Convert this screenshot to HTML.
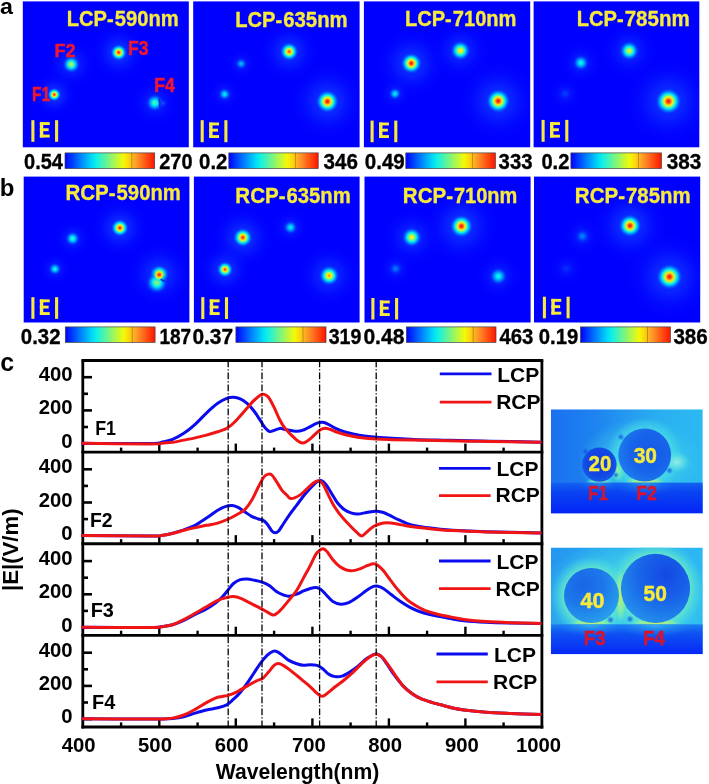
<!DOCTYPE html>
<html><head><meta charset="utf-8"><title>Figure</title>
<style>
html,body{margin:0;padding:0;background:#fff;}
body{width:709px;height:784px;overflow:hidden;font-family:"Liberation Sans",sans-serif;}
svg{display:block;}
text{font-family:"Liberation Sans",sans-serif;opacity:0.999;}
</style></head><body>
<svg width="709" height="784" viewBox="0 0 709 784">
<defs>
<radialGradient id="halo"><stop offset="0" stop-color="#1c64ff" stop-opacity="0.9"/><stop offset="0.3" stop-color="#1448ff" stop-opacity="0.55"/><stop offset="0.6" stop-color="#0c30ff" stop-opacity="0.25"/><stop offset="1" stop-color="#0000ff" stop-opacity="0"/></radialGradient>
<clipPath id="pc0"><rect x="22.8" y="1.4" width="166.0" height="145.9"/></clipPath>
<radialGradient id="g1"><stop offset="0.000" stop-color="#bef83c" stop-opacity="1.00"/><stop offset="0.062" stop-color="#b1f749" stop-opacity="1.00"/><stop offset="0.125" stop-color="#94f666" stop-opacity="1.00"/><stop offset="0.188" stop-color="#6df48c" stop-opacity="1.00"/><stop offset="0.250" stop-color="#40f2b7" stop-opacity="1.00"/><stop offset="0.312" stop-color="#11f1e5" stop-opacity="1.00"/><stop offset="0.375" stop-color="#00d5f7" stop-opacity="1.00"/><stop offset="0.438" stop-color="#00aefb" stop-opacity="1.00"/><stop offset="0.500" stop-color="#008bfd" stop-opacity="1.00"/><stop offset="0.562" stop-color="#006cff" stop-opacity="1.00"/><stop offset="0.625" stop-color="#0051ff" stop-opacity="0.77"/><stop offset="0.688" stop-color="#003cff" stop-opacity="0.57"/><stop offset="0.750" stop-color="#002bff" stop-opacity="0.41"/><stop offset="0.812" stop-color="#001fff" stop-opacity="0.29"/><stop offset="0.875" stop-color="#0015ff" stop-opacity="0.20"/><stop offset="0.938" stop-color="#000eff" stop-opacity="0.14"/><stop offset="1.000" stop-color="#000aff" stop-opacity="0.09"/></radialGradient>
<radialGradient id="g2"><stop offset="0.000" stop-color="#ff2806" stop-opacity="1.00"/><stop offset="0.062" stop-color="#ff3a0c" stop-opacity="1.00"/><stop offset="0.125" stop-color="#ff6419" stop-opacity="1.00"/><stop offset="0.188" stop-color="#ff9c25" stop-opacity="1.00"/><stop offset="0.250" stop-color="#fbe309" stop-opacity="1.00"/><stop offset="0.312" stop-color="#c5f835" stop-opacity="1.00"/><stop offset="0.375" stop-color="#79f580" stop-opacity="1.00"/><stop offset="0.438" stop-color="#32f2c5" stop-opacity="1.00"/><stop offset="0.500" stop-color="#00e3f6" stop-opacity="1.00"/><stop offset="0.562" stop-color="#00b1fa" stop-opacity="1.00"/><stop offset="0.625" stop-color="#0087fe" stop-opacity="1.00"/><stop offset="0.688" stop-color="#0064ff" stop-opacity="0.96"/><stop offset="0.750" stop-color="#0048ff" stop-opacity="0.69"/><stop offset="0.812" stop-color="#0033ff" stop-opacity="0.49"/><stop offset="0.875" stop-color="#0023ff" stop-opacity="0.34"/><stop offset="0.938" stop-color="#0018ff" stop-opacity="0.23"/><stop offset="1.000" stop-color="#0010ff" stop-opacity="0.15"/></radialGradient>
<radialGradient id="g3"><stop offset="0.000" stop-color="#ff2806" stop-opacity="1.00"/><stop offset="0.062" stop-color="#ff3a0c" stop-opacity="1.00"/><stop offset="0.125" stop-color="#ff6419" stop-opacity="1.00"/><stop offset="0.188" stop-color="#ff9c25" stop-opacity="1.00"/><stop offset="0.250" stop-color="#fbe309" stop-opacity="1.00"/><stop offset="0.312" stop-color="#c5f835" stop-opacity="1.00"/><stop offset="0.375" stop-color="#79f580" stop-opacity="1.00"/><stop offset="0.438" stop-color="#32f2c5" stop-opacity="1.00"/><stop offset="0.500" stop-color="#00e3f6" stop-opacity="1.00"/><stop offset="0.562" stop-color="#00b1fa" stop-opacity="1.00"/><stop offset="0.625" stop-color="#0087fe" stop-opacity="1.00"/><stop offset="0.688" stop-color="#0064ff" stop-opacity="0.96"/><stop offset="0.750" stop-color="#0048ff" stop-opacity="0.69"/><stop offset="0.812" stop-color="#0033ff" stop-opacity="0.49"/><stop offset="0.875" stop-color="#0023ff" stop-opacity="0.34"/><stop offset="0.938" stop-color="#0018ff" stop-opacity="0.23"/><stop offset="1.000" stop-color="#0010ff" stop-opacity="0.15"/></radialGradient>
<radialGradient id="g4"><stop offset="0.000" stop-color="#54f3a4" stop-opacity="1.00"/><stop offset="0.062" stop-color="#4af3ae" stop-opacity="1.00"/><stop offset="0.125" stop-color="#34f2c3" stop-opacity="1.00"/><stop offset="0.188" stop-color="#16f1e0" stop-opacity="1.00"/><stop offset="0.250" stop-color="#00e5f6" stop-opacity="1.00"/><stop offset="0.312" stop-color="#00c4f9" stop-opacity="1.00"/><stop offset="0.375" stop-color="#00a3fb" stop-opacity="1.00"/><stop offset="0.438" stop-color="#0086fe" stop-opacity="1.00"/><stop offset="0.500" stop-color="#006aff" stop-opacity="1.00"/><stop offset="0.562" stop-color="#0052ff" stop-opacity="0.78"/><stop offset="0.625" stop-color="#003eff" stop-opacity="0.59"/><stop offset="0.688" stop-color="#002dff" stop-opacity="0.43"/><stop offset="0.750" stop-color="#0021ff" stop-opacity="0.31"/><stop offset="0.812" stop-color="#0017ff" stop-opacity="0.22"/><stop offset="0.875" stop-color="#0010ff" stop-opacity="0.15"/><stop offset="0.938" stop-color="#000bff" stop-opacity="0.10"/><stop offset="1.000" stop-color="#0007ff" stop-opacity="0.07"/></radialGradient>
<clipPath id="pc1"><rect x="193.2" y="1.4" width="166.4" height="145.9"/></clipPath>
<radialGradient id="g5"><stop offset="0.000" stop-color="#ff5514" stop-opacity="1.00"/><stop offset="0.062" stop-color="#ff6619" stop-opacity="1.00"/><stop offset="0.125" stop-color="#ff8d25" stop-opacity="1.00"/><stop offset="0.188" stop-color="#fdc515" stop-opacity="1.00"/><stop offset="0.250" stop-color="#edf90d" stop-opacity="1.00"/><stop offset="0.312" stop-color="#a5f655" stop-opacity="1.00"/><stop offset="0.375" stop-color="#5ef49a" stop-opacity="1.00"/><stop offset="0.438" stop-color="#1cf1da" stop-opacity="1.00"/><stop offset="0.500" stop-color="#00d3f7" stop-opacity="1.00"/><stop offset="0.562" stop-color="#00a5fb" stop-opacity="1.00"/><stop offset="0.625" stop-color="#007eff" stop-opacity="1.00"/><stop offset="0.688" stop-color="#005dff" stop-opacity="0.89"/><stop offset="0.750" stop-color="#0043ff" stop-opacity="0.64"/><stop offset="0.812" stop-color="#002fff" stop-opacity="0.45"/><stop offset="0.875" stop-color="#0021ff" stop-opacity="0.31"/><stop offset="0.938" stop-color="#0016ff" stop-opacity="0.21"/><stop offset="1.000" stop-color="#000fff" stop-opacity="0.14"/></radialGradient>
<radialGradient id="g6"><stop offset="0.000" stop-color="#00b8fa" stop-opacity="1.00"/><stop offset="0.062" stop-color="#00b2fa" stop-opacity="1.00"/><stop offset="0.125" stop-color="#00a7fb" stop-opacity="1.00"/><stop offset="0.188" stop-color="#0097fc" stop-opacity="1.00"/><stop offset="0.250" stop-color="#0085fe" stop-opacity="1.00"/><stop offset="0.312" stop-color="#0072ff" stop-opacity="1.00"/><stop offset="0.375" stop-color="#005eff" stop-opacity="0.90"/><stop offset="0.438" stop-color="#004cff" stop-opacity="0.73"/><stop offset="0.500" stop-color="#003cff" stop-opacity="0.57"/><stop offset="0.562" stop-color="#002eff" stop-opacity="0.44"/><stop offset="0.625" stop-color="#0023ff" stop-opacity="0.33"/><stop offset="0.688" stop-color="#001aff" stop-opacity="0.25"/><stop offset="0.750" stop-color="#0013ff" stop-opacity="0.18"/><stop offset="0.812" stop-color="#000dff" stop-opacity="0.13"/><stop offset="0.875" stop-color="#0009ff" stop-opacity="0.09"/><stop offset="0.938" stop-color="#0006ff" stop-opacity="0.06"/><stop offset="1.000" stop-color="#0004ff" stop-opacity="0.04"/></radialGradient>
<radialGradient id="g7"><stop offset="0.000" stop-color="#00f0f5" stop-opacity="1.00"/><stop offset="0.062" stop-color="#00e9f6" stop-opacity="1.00"/><stop offset="0.125" stop-color="#00daf7" stop-opacity="1.00"/><stop offset="0.188" stop-color="#00c5f9" stop-opacity="1.00"/><stop offset="0.250" stop-color="#00adfb" stop-opacity="1.00"/><stop offset="0.312" stop-color="#0095fd" stop-opacity="1.00"/><stop offset="0.375" stop-color="#007cff" stop-opacity="1.00"/><stop offset="0.438" stop-color="#0065ff" stop-opacity="0.96"/><stop offset="0.500" stop-color="#0050ff" stop-opacity="0.76"/><stop offset="0.562" stop-color="#003dff" stop-opacity="0.58"/><stop offset="0.625" stop-color="#002eff" stop-opacity="0.44"/><stop offset="0.688" stop-color="#0022ff" stop-opacity="0.32"/><stop offset="0.750" stop-color="#0019ff" stop-opacity="0.23"/><stop offset="0.812" stop-color="#0011ff" stop-opacity="0.17"/><stop offset="0.875" stop-color="#000cff" stop-opacity="0.11"/><stop offset="0.938" stop-color="#0008ff" stop-opacity="0.08"/><stop offset="1.000" stop-color="#0005ff" stop-opacity="0.05"/></radialGradient>
<radialGradient id="g8"><stop offset="0.000" stop-color="#ff1400" stop-opacity="1.00"/><stop offset="0.062" stop-color="#ff2706" stop-opacity="1.00"/><stop offset="0.125" stop-color="#ff5213" stop-opacity="1.00"/><stop offset="0.188" stop-color="#ff8c25" stop-opacity="1.00"/><stop offset="0.250" stop-color="#fcd40f" stop-opacity="1.00"/><stop offset="0.312" stop-color="#d3f827" stop-opacity="1.00"/><stop offset="0.375" stop-color="#85f575" stop-opacity="1.00"/><stop offset="0.438" stop-color="#3bf2bc" stop-opacity="1.00"/><stop offset="0.500" stop-color="#00eaf6" stop-opacity="1.00"/><stop offset="0.562" stop-color="#00b6fa" stop-opacity="1.00"/><stop offset="0.625" stop-color="#008bfd" stop-opacity="1.00"/><stop offset="0.688" stop-color="#0067ff" stop-opacity="0.98"/><stop offset="0.750" stop-color="#004bff" stop-opacity="0.71"/><stop offset="0.812" stop-color="#0035ff" stop-opacity="0.50"/><stop offset="0.875" stop-color="#0025ff" stop-opacity="0.35"/><stop offset="0.938" stop-color="#0019ff" stop-opacity="0.24"/><stop offset="1.000" stop-color="#0010ff" stop-opacity="0.16"/></radialGradient>
<clipPath id="pc2"><rect x="363.9" y="1.4" width="166.3" height="145.9"/></clipPath>
<radialGradient id="g9"><stop offset="0.000" stop-color="#ff1400" stop-opacity="1.00"/><stop offset="0.062" stop-color="#ff2706" stop-opacity="1.00"/><stop offset="0.125" stop-color="#ff5213" stop-opacity="1.00"/><stop offset="0.188" stop-color="#ff8c25" stop-opacity="1.00"/><stop offset="0.250" stop-color="#fcd40f" stop-opacity="1.00"/><stop offset="0.312" stop-color="#d3f827" stop-opacity="1.00"/><stop offset="0.375" stop-color="#85f575" stop-opacity="1.00"/><stop offset="0.438" stop-color="#3bf2bc" stop-opacity="1.00"/><stop offset="0.500" stop-color="#00eaf6" stop-opacity="1.00"/><stop offset="0.562" stop-color="#00b6fa" stop-opacity="1.00"/><stop offset="0.625" stop-color="#008bfd" stop-opacity="1.00"/><stop offset="0.688" stop-color="#0067ff" stop-opacity="0.98"/><stop offset="0.750" stop-color="#004bff" stop-opacity="0.71"/><stop offset="0.812" stop-color="#0035ff" stop-opacity="0.50"/><stop offset="0.875" stop-color="#0025ff" stop-opacity="0.35"/><stop offset="0.938" stop-color="#0019ff" stop-opacity="0.24"/><stop offset="1.000" stop-color="#0010ff" stop-opacity="0.16"/></radialGradient>
<radialGradient id="g10"><stop offset="0.000" stop-color="#fbdd0b" stop-opacity="1.00"/><stop offset="0.062" stop-color="#fbec06" stop-opacity="1.00"/><stop offset="0.125" stop-color="#e6f914" stop-opacity="1.00"/><stop offset="0.188" stop-color="#b7f743" stop-opacity="1.00"/><stop offset="0.250" stop-color="#82f578" stop-opacity="1.00"/><stop offset="0.312" stop-color="#49f3af" stop-opacity="1.00"/><stop offset="0.375" stop-color="#11f1e4" stop-opacity="1.00"/><stop offset="0.438" stop-color="#00d0f8" stop-opacity="1.00"/><stop offset="0.500" stop-color="#00a6fb" stop-opacity="1.00"/><stop offset="0.562" stop-color="#0082fe" stop-opacity="1.00"/><stop offset="0.625" stop-color="#0062ff" stop-opacity="0.93"/><stop offset="0.688" stop-color="#0048ff" stop-opacity="0.69"/><stop offset="0.750" stop-color="#0034ff" stop-opacity="0.50"/><stop offset="0.812" stop-color="#0025ff" stop-opacity="0.35"/><stop offset="0.875" stop-color="#001aff" stop-opacity="0.24"/><stop offset="0.938" stop-color="#0011ff" stop-opacity="0.17"/><stop offset="1.000" stop-color="#000cff" stop-opacity="0.11"/></radialGradient>
<radialGradient id="g11"><stop offset="0.000" stop-color="#00f0f5" stop-opacity="1.00"/><stop offset="0.062" stop-color="#00e9f6" stop-opacity="1.00"/><stop offset="0.125" stop-color="#00daf7" stop-opacity="1.00"/><stop offset="0.188" stop-color="#00c5f9" stop-opacity="1.00"/><stop offset="0.250" stop-color="#00adfb" stop-opacity="1.00"/><stop offset="0.312" stop-color="#0095fd" stop-opacity="1.00"/><stop offset="0.375" stop-color="#007cff" stop-opacity="1.00"/><stop offset="0.438" stop-color="#0065ff" stop-opacity="0.96"/><stop offset="0.500" stop-color="#0050ff" stop-opacity="0.76"/><stop offset="0.562" stop-color="#003dff" stop-opacity="0.58"/><stop offset="0.625" stop-color="#002eff" stop-opacity="0.44"/><stop offset="0.688" stop-color="#0022ff" stop-opacity="0.32"/><stop offset="0.750" stop-color="#0019ff" stop-opacity="0.23"/><stop offset="0.812" stop-color="#0011ff" stop-opacity="0.17"/><stop offset="0.875" stop-color="#000cff" stop-opacity="0.11"/><stop offset="0.938" stop-color="#0008ff" stop-opacity="0.08"/><stop offset="1.000" stop-color="#0005ff" stop-opacity="0.05"/></radialGradient>
<radialGradient id="g12"><stop offset="0.000" stop-color="#ff1400" stop-opacity="1.00"/><stop offset="0.062" stop-color="#ff2706" stop-opacity="1.00"/><stop offset="0.125" stop-color="#ff5213" stop-opacity="1.00"/><stop offset="0.188" stop-color="#ff8c25" stop-opacity="1.00"/><stop offset="0.250" stop-color="#fcd40f" stop-opacity="1.00"/><stop offset="0.312" stop-color="#d3f827" stop-opacity="1.00"/><stop offset="0.375" stop-color="#85f575" stop-opacity="1.00"/><stop offset="0.438" stop-color="#3bf2bc" stop-opacity="1.00"/><stop offset="0.500" stop-color="#00eaf6" stop-opacity="1.00"/><stop offset="0.562" stop-color="#00b6fa" stop-opacity="1.00"/><stop offset="0.625" stop-color="#008bfd" stop-opacity="1.00"/><stop offset="0.688" stop-color="#0067ff" stop-opacity="0.98"/><stop offset="0.750" stop-color="#004bff" stop-opacity="0.71"/><stop offset="0.812" stop-color="#0035ff" stop-opacity="0.50"/><stop offset="0.875" stop-color="#0025ff" stop-opacity="0.35"/><stop offset="0.938" stop-color="#0019ff" stop-opacity="0.24"/><stop offset="1.000" stop-color="#0010ff" stop-opacity="0.16"/></radialGradient>
<clipPath id="pc3"><rect x="533.6" y="1.4" width="165.7" height="145.9"/></clipPath>
<radialGradient id="g13"><stop offset="0.000" stop-color="#17f1df" stop-opacity="1.00"/><stop offset="0.062" stop-color="#0ff1e7" stop-opacity="1.00"/><stop offset="0.125" stop-color="#00edf5" stop-opacity="1.00"/><stop offset="0.188" stop-color="#00d6f7" stop-opacity="1.00"/><stop offset="0.250" stop-color="#00bcf9" stop-opacity="1.00"/><stop offset="0.312" stop-color="#00a1fc" stop-opacity="1.00"/><stop offset="0.375" stop-color="#0087fe" stop-opacity="1.00"/><stop offset="0.438" stop-color="#006eff" stop-opacity="1.00"/><stop offset="0.500" stop-color="#0057ff" stop-opacity="0.83"/><stop offset="0.562" stop-color="#0043ff" stop-opacity="0.64"/><stop offset="0.625" stop-color="#0032ff" stop-opacity="0.48"/><stop offset="0.688" stop-color="#0025ff" stop-opacity="0.35"/><stop offset="0.750" stop-color="#001bff" stop-opacity="0.26"/><stop offset="0.812" stop-color="#0013ff" stop-opacity="0.18"/><stop offset="0.875" stop-color="#000dff" stop-opacity="0.13"/><stop offset="0.938" stop-color="#0009ff" stop-opacity="0.08"/><stop offset="1.000" stop-color="#0006ff" stop-opacity="0.06"/></radialGradient>
<radialGradient id="g14"><stop offset="0.000" stop-color="#e4f917" stop-opacity="1.00"/><stop offset="0.062" stop-color="#d6f824" stop-opacity="1.00"/><stop offset="0.125" stop-color="#b6f744" stop-opacity="1.00"/><stop offset="0.188" stop-color="#8cf56e" stop-opacity="1.00"/><stop offset="0.250" stop-color="#5bf49d" stop-opacity="1.00"/><stop offset="0.312" stop-color="#28f2ce" stop-opacity="1.00"/><stop offset="0.375" stop-color="#00e7f6" stop-opacity="1.00"/><stop offset="0.438" stop-color="#00bcf9" stop-opacity="1.00"/><stop offset="0.500" stop-color="#0096fc" stop-opacity="1.00"/><stop offset="0.562" stop-color="#0075ff" stop-opacity="1.00"/><stop offset="0.625" stop-color="#0058ff" stop-opacity="0.84"/><stop offset="0.688" stop-color="#0041ff" stop-opacity="0.62"/><stop offset="0.750" stop-color="#002fff" stop-opacity="0.45"/><stop offset="0.812" stop-color="#0021ff" stop-opacity="0.32"/><stop offset="0.875" stop-color="#0017ff" stop-opacity="0.22"/><stop offset="0.938" stop-color="#0010ff" stop-opacity="0.15"/><stop offset="1.000" stop-color="#000aff" stop-opacity="0.10"/></radialGradient>
<radialGradient id="g15"><stop offset="0.000" stop-color="#004bff" stop-opacity="0.71"/><stop offset="0.062" stop-color="#0049ff" stop-opacity="0.69"/><stop offset="0.125" stop-color="#0044ff" stop-opacity="0.65"/><stop offset="0.188" stop-color="#003dff" stop-opacity="0.58"/><stop offset="0.250" stop-color="#0036ff" stop-opacity="0.51"/><stop offset="0.312" stop-color="#002eff" stop-opacity="0.43"/><stop offset="0.375" stop-color="#0026ff" stop-opacity="0.36"/><stop offset="0.438" stop-color="#001fff" stop-opacity="0.29"/><stop offset="0.500" stop-color="#0018ff" stop-opacity="0.23"/><stop offset="0.562" stop-color="#0013ff" stop-opacity="0.18"/><stop offset="0.625" stop-color="#000eff" stop-opacity="0.13"/><stop offset="0.688" stop-color="#000aff" stop-opacity="0.10"/><stop offset="0.750" stop-color="#0007ff" stop-opacity="0.07"/><stop offset="0.812" stop-color="#0005ff" stop-opacity="0.05"/><stop offset="0.875" stop-color="#0004ff" stop-opacity="0.03"/><stop offset="0.938" stop-color="#0002ff" stop-opacity="0.02"/><stop offset="1.000" stop-color="#0002ff" stop-opacity="0.02"/></radialGradient>
<radialGradient id="g16"><stop offset="0.000" stop-color="#ff1400" stop-opacity="1.00"/><stop offset="0.062" stop-color="#ff2706" stop-opacity="1.00"/><stop offset="0.125" stop-color="#ff5213" stop-opacity="1.00"/><stop offset="0.188" stop-color="#ff8c25" stop-opacity="1.00"/><stop offset="0.250" stop-color="#fcd40f" stop-opacity="1.00"/><stop offset="0.312" stop-color="#d3f827" stop-opacity="1.00"/><stop offset="0.375" stop-color="#85f575" stop-opacity="1.00"/><stop offset="0.438" stop-color="#3bf2bc" stop-opacity="1.00"/><stop offset="0.500" stop-color="#00eaf6" stop-opacity="1.00"/><stop offset="0.562" stop-color="#00b6fa" stop-opacity="1.00"/><stop offset="0.625" stop-color="#008bfd" stop-opacity="1.00"/><stop offset="0.688" stop-color="#0067ff" stop-opacity="0.98"/><stop offset="0.750" stop-color="#004bff" stop-opacity="0.71"/><stop offset="0.812" stop-color="#0035ff" stop-opacity="0.50"/><stop offset="0.875" stop-color="#0025ff" stop-opacity="0.35"/><stop offset="0.938" stop-color="#0019ff" stop-opacity="0.24"/><stop offset="1.000" stop-color="#0010ff" stop-opacity="0.16"/></radialGradient>
<clipPath id="pc4"><rect x="23.7" y="176.6" width="165.7" height="145.9"/></clipPath>
<radialGradient id="g17"><stop offset="0.000" stop-color="#ff2806" stop-opacity="1.00"/><stop offset="0.062" stop-color="#ff3a0c" stop-opacity="1.00"/><stop offset="0.125" stop-color="#ff6419" stop-opacity="1.00"/><stop offset="0.188" stop-color="#ff9c25" stop-opacity="1.00"/><stop offset="0.250" stop-color="#fbe309" stop-opacity="1.00"/><stop offset="0.312" stop-color="#c5f835" stop-opacity="1.00"/><stop offset="0.375" stop-color="#79f580" stop-opacity="1.00"/><stop offset="0.438" stop-color="#32f2c5" stop-opacity="1.00"/><stop offset="0.500" stop-color="#00e3f6" stop-opacity="1.00"/><stop offset="0.562" stop-color="#00b1fa" stop-opacity="1.00"/><stop offset="0.625" stop-color="#0087fe" stop-opacity="1.00"/><stop offset="0.688" stop-color="#0064ff" stop-opacity="0.96"/><stop offset="0.750" stop-color="#0048ff" stop-opacity="0.69"/><stop offset="0.812" stop-color="#0033ff" stop-opacity="0.49"/><stop offset="0.875" stop-color="#0023ff" stop-opacity="0.34"/><stop offset="0.938" stop-color="#0018ff" stop-opacity="0.23"/><stop offset="1.000" stop-color="#0010ff" stop-opacity="0.15"/></radialGradient>
<radialGradient id="g18"><stop offset="0.000" stop-color="#36f2c2" stop-opacity="1.00"/><stop offset="0.062" stop-color="#2df2ca" stop-opacity="1.00"/><stop offset="0.125" stop-color="#18f1de" stop-opacity="1.00"/><stop offset="0.188" stop-color="#00edf5" stop-opacity="1.00"/><stop offset="0.250" stop-color="#00d1f8" stop-opacity="1.00"/><stop offset="0.312" stop-color="#00b3fa" stop-opacity="1.00"/><stop offset="0.375" stop-color="#0095fd" stop-opacity="1.00"/><stop offset="0.438" stop-color="#007aff" stop-opacity="1.00"/><stop offset="0.500" stop-color="#0060ff" stop-opacity="0.92"/><stop offset="0.562" stop-color="#004aff" stop-opacity="0.71"/><stop offset="0.625" stop-color="#0038ff" stop-opacity="0.53"/><stop offset="0.688" stop-color="#0029ff" stop-opacity="0.39"/><stop offset="0.750" stop-color="#001eff" stop-opacity="0.28"/><stop offset="0.812" stop-color="#0015ff" stop-opacity="0.20"/><stop offset="0.875" stop-color="#000fff" stop-opacity="0.14"/><stop offset="0.938" stop-color="#000aff" stop-opacity="0.09"/><stop offset="1.000" stop-color="#0007ff" stop-opacity="0.06"/></radialGradient>
<radialGradient id="g19"><stop offset="0.000" stop-color="#17f1df" stop-opacity="1.00"/><stop offset="0.062" stop-color="#0ff1e7" stop-opacity="1.00"/><stop offset="0.125" stop-color="#00edf5" stop-opacity="1.00"/><stop offset="0.188" stop-color="#00d6f7" stop-opacity="1.00"/><stop offset="0.250" stop-color="#00bcf9" stop-opacity="1.00"/><stop offset="0.312" stop-color="#00a1fc" stop-opacity="1.00"/><stop offset="0.375" stop-color="#0087fe" stop-opacity="1.00"/><stop offset="0.438" stop-color="#006eff" stop-opacity="1.00"/><stop offset="0.500" stop-color="#0057ff" stop-opacity="0.83"/><stop offset="0.562" stop-color="#0043ff" stop-opacity="0.64"/><stop offset="0.625" stop-color="#0032ff" stop-opacity="0.48"/><stop offset="0.688" stop-color="#0025ff" stop-opacity="0.35"/><stop offset="0.750" stop-color="#001bff" stop-opacity="0.26"/><stop offset="0.812" stop-color="#0013ff" stop-opacity="0.18"/><stop offset="0.875" stop-color="#000dff" stop-opacity="0.13"/><stop offset="0.938" stop-color="#0009ff" stop-opacity="0.08"/><stop offset="1.000" stop-color="#0006ff" stop-opacity="0.06"/></radialGradient>
<radialGradient id="g20"><stop offset="0.000" stop-color="#ff2806" stop-opacity="1.00"/><stop offset="0.062" stop-color="#ff3a0c" stop-opacity="1.00"/><stop offset="0.125" stop-color="#ff6419" stop-opacity="1.00"/><stop offset="0.188" stop-color="#ff9c25" stop-opacity="1.00"/><stop offset="0.250" stop-color="#fbe309" stop-opacity="1.00"/><stop offset="0.312" stop-color="#c5f835" stop-opacity="1.00"/><stop offset="0.375" stop-color="#79f580" stop-opacity="1.00"/><stop offset="0.438" stop-color="#32f2c5" stop-opacity="1.00"/><stop offset="0.500" stop-color="#00e3f6" stop-opacity="1.00"/><stop offset="0.562" stop-color="#00b1fa" stop-opacity="1.00"/><stop offset="0.625" stop-color="#0087fe" stop-opacity="1.00"/><stop offset="0.688" stop-color="#0064ff" stop-opacity="0.96"/><stop offset="0.750" stop-color="#0048ff" stop-opacity="0.69"/><stop offset="0.812" stop-color="#0033ff" stop-opacity="0.49"/><stop offset="0.875" stop-color="#0023ff" stop-opacity="0.34"/><stop offset="0.938" stop-color="#0018ff" stop-opacity="0.23"/><stop offset="1.000" stop-color="#0010ff" stop-opacity="0.15"/></radialGradient>
<radialGradient id="mg"><stop offset="0" stop-color="#000"/><stop offset="0.34" stop-color="#000"/><stop offset="0.8" stop-color="#fff"/></radialGradient>
<mask id="m1" maskUnits="userSpaceOnUse" x="130" y="250" width="60" height="60"><rect x="130" y="250" width="60" height="60" fill="#fff"/><circle cx="159.2" cy="274.8" r="9" fill="url(#mg)"/></mask>
<radialGradient id="g21"><stop offset="0.000" stop-color="#91f669" stop-opacity="1.00"/><stop offset="0.062" stop-color="#86f574" stop-opacity="1.00"/><stop offset="0.125" stop-color="#6bf48e" stop-opacity="1.00"/><stop offset="0.188" stop-color="#48f3b0" stop-opacity="1.00"/><stop offset="0.250" stop-color="#1ff1d7" stop-opacity="1.00"/><stop offset="0.312" stop-color="#00e6f6" stop-opacity="1.00"/><stop offset="0.375" stop-color="#00c0f9" stop-opacity="1.00"/><stop offset="0.438" stop-color="#009dfc" stop-opacity="1.00"/><stop offset="0.500" stop-color="#007dff" stop-opacity="1.00"/><stop offset="0.562" stop-color="#0061ff" stop-opacity="0.92"/><stop offset="0.625" stop-color="#0049ff" stop-opacity="0.69"/><stop offset="0.688" stop-color="#0036ff" stop-opacity="0.51"/><stop offset="0.750" stop-color="#0027ff" stop-opacity="0.37"/><stop offset="0.812" stop-color="#001bff" stop-opacity="0.26"/><stop offset="0.875" stop-color="#0013ff" stop-opacity="0.18"/><stop offset="0.938" stop-color="#000dff" stop-opacity="0.12"/><stop offset="1.000" stop-color="#0009ff" stop-opacity="0.08"/></radialGradient>
<clipPath id="pc5"><rect x="193.9" y="176.6" width="165.7" height="145.9"/></clipPath>
<radialGradient id="g22"><stop offset="0.000" stop-color="#ff350a" stop-opacity="1.00"/><stop offset="0.062" stop-color="#ff4710" stop-opacity="1.00"/><stop offset="0.125" stop-color="#ff6f1c" stop-opacity="1.00"/><stop offset="0.188" stop-color="#fea821" stop-opacity="1.00"/><stop offset="0.250" stop-color="#fbed05" stop-opacity="1.00"/><stop offset="0.312" stop-color="#bcf73e" stop-opacity="1.00"/><stop offset="0.375" stop-color="#71f488" stop-opacity="1.00"/><stop offset="0.438" stop-color="#2bf2cb" stop-opacity="1.00"/><stop offset="0.500" stop-color="#00dff6" stop-opacity="1.00"/><stop offset="0.562" stop-color="#00adfb" stop-opacity="1.00"/><stop offset="0.625" stop-color="#0084fe" stop-opacity="1.00"/><stop offset="0.688" stop-color="#0062ff" stop-opacity="0.94"/><stop offset="0.750" stop-color="#0047ff" stop-opacity="0.68"/><stop offset="0.812" stop-color="#0032ff" stop-opacity="0.48"/><stop offset="0.875" stop-color="#0023ff" stop-opacity="0.33"/><stop offset="0.938" stop-color="#0018ff" stop-opacity="0.22"/><stop offset="1.000" stop-color="#0010ff" stop-opacity="0.15"/></radialGradient>
<radialGradient id="g23"><stop offset="0.000" stop-color="#00f0f5" stop-opacity="1.00"/><stop offset="0.062" stop-color="#00e9f6" stop-opacity="1.00"/><stop offset="0.125" stop-color="#00daf7" stop-opacity="1.00"/><stop offset="0.188" stop-color="#00c5f9" stop-opacity="1.00"/><stop offset="0.250" stop-color="#00adfb" stop-opacity="1.00"/><stop offset="0.312" stop-color="#0095fd" stop-opacity="1.00"/><stop offset="0.375" stop-color="#007cff" stop-opacity="1.00"/><stop offset="0.438" stop-color="#0065ff" stop-opacity="0.96"/><stop offset="0.500" stop-color="#0050ff" stop-opacity="0.76"/><stop offset="0.562" stop-color="#003dff" stop-opacity="0.58"/><stop offset="0.625" stop-color="#002eff" stop-opacity="0.44"/><stop offset="0.688" stop-color="#0022ff" stop-opacity="0.32"/><stop offset="0.750" stop-color="#0019ff" stop-opacity="0.23"/><stop offset="0.812" stop-color="#0011ff" stop-opacity="0.17"/><stop offset="0.875" stop-color="#000cff" stop-opacity="0.11"/><stop offset="0.938" stop-color="#0008ff" stop-opacity="0.08"/><stop offset="1.000" stop-color="#0005ff" stop-opacity="0.05"/></radialGradient>
<radialGradient id="g24"><stop offset="0.000" stop-color="#ff4810" stop-opacity="1.00"/><stop offset="0.062" stop-color="#ff5a15" stop-opacity="1.00"/><stop offset="0.125" stop-color="#ff8122" stop-opacity="1.00"/><stop offset="0.188" stop-color="#fdba1a" stop-opacity="1.00"/><stop offset="0.250" stop-color="#f7fa03" stop-opacity="1.00"/><stop offset="0.312" stop-color="#aef74c" stop-opacity="1.00"/><stop offset="0.375" stop-color="#66f493" stop-opacity="1.00"/><stop offset="0.438" stop-color="#22f1d4" stop-opacity="1.00"/><stop offset="0.500" stop-color="#00d8f7" stop-opacity="1.00"/><stop offset="0.562" stop-color="#00a8fb" stop-opacity="1.00"/><stop offset="0.625" stop-color="#0080fe" stop-opacity="1.00"/><stop offset="0.688" stop-color="#005fff" stop-opacity="0.91"/><stop offset="0.750" stop-color="#0045ff" stop-opacity="0.65"/><stop offset="0.812" stop-color="#0031ff" stop-opacity="0.46"/><stop offset="0.875" stop-color="#0022ff" stop-opacity="0.32"/><stop offset="0.938" stop-color="#0017ff" stop-opacity="0.22"/><stop offset="1.000" stop-color="#000fff" stop-opacity="0.14"/></radialGradient>
<radialGradient id="g25"><stop offset="0.000" stop-color="#ff9628" stop-opacity="1.00"/><stop offset="0.062" stop-color="#fea721" stop-opacity="1.00"/><stop offset="0.125" stop-color="#fccd12" stop-opacity="1.00"/><stop offset="0.188" stop-color="#f4fa06" stop-opacity="1.00"/><stop offset="0.250" stop-color="#b7f743" stop-opacity="1.00"/><stop offset="0.312" stop-color="#77f582" stop-opacity="1.00"/><stop offset="0.375" stop-color="#38f2bf" stop-opacity="1.00"/><stop offset="0.438" stop-color="#00edf5" stop-opacity="1.00"/><stop offset="0.500" stop-color="#00bdf9" stop-opacity="1.00"/><stop offset="0.562" stop-color="#0093fd" stop-opacity="1.00"/><stop offset="0.625" stop-color="#0070ff" stop-opacity="1.00"/><stop offset="0.688" stop-color="#0053ff" stop-opacity="0.79"/><stop offset="0.750" stop-color="#003cff" stop-opacity="0.57"/><stop offset="0.812" stop-color="#002aff" stop-opacity="0.40"/><stop offset="0.875" stop-color="#001dff" stop-opacity="0.28"/><stop offset="0.938" stop-color="#0014ff" stop-opacity="0.19"/><stop offset="1.000" stop-color="#000dff" stop-opacity="0.13"/></radialGradient>
<clipPath id="pc6"><rect x="364.5" y="176.6" width="166.1" height="145.9"/></clipPath>
<radialGradient id="g26"><stop offset="0.000" stop-color="#ff1400" stop-opacity="1.00"/><stop offset="0.062" stop-color="#ff2706" stop-opacity="1.00"/><stop offset="0.125" stop-color="#ff5213" stop-opacity="1.00"/><stop offset="0.188" stop-color="#ff8c25" stop-opacity="1.00"/><stop offset="0.250" stop-color="#fcd40f" stop-opacity="1.00"/><stop offset="0.312" stop-color="#d3f827" stop-opacity="1.00"/><stop offset="0.375" stop-color="#85f575" stop-opacity="1.00"/><stop offset="0.438" stop-color="#3bf2bc" stop-opacity="1.00"/><stop offset="0.500" stop-color="#00eaf6" stop-opacity="1.00"/><stop offset="0.562" stop-color="#00b6fa" stop-opacity="1.00"/><stop offset="0.625" stop-color="#008bfd" stop-opacity="1.00"/><stop offset="0.688" stop-color="#0067ff" stop-opacity="0.98"/><stop offset="0.750" stop-color="#004bff" stop-opacity="0.71"/><stop offset="0.812" stop-color="#0035ff" stop-opacity="0.50"/><stop offset="0.875" stop-color="#0025ff" stop-opacity="0.35"/><stop offset="0.938" stop-color="#0019ff" stop-opacity="0.24"/><stop offset="1.000" stop-color="#0010ff" stop-opacity="0.16"/></radialGradient>
<radialGradient id="g27"><stop offset="0.000" stop-color="#fbec06" stop-opacity="1.00"/><stop offset="0.062" stop-color="#fafa00" stop-opacity="1.00"/><stop offset="0.125" stop-color="#d8f922" stop-opacity="1.00"/><stop offset="0.188" stop-color="#abf74f" stop-opacity="1.00"/><stop offset="0.250" stop-color="#77f583" stop-opacity="1.00"/><stop offset="0.312" stop-color="#3ff2b8" stop-opacity="1.00"/><stop offset="0.375" stop-color="#0af0ec" stop-opacity="1.00"/><stop offset="0.438" stop-color="#00cbf8" stop-opacity="1.00"/><stop offset="0.500" stop-color="#00a1fc" stop-opacity="1.00"/><stop offset="0.562" stop-color="#007efe" stop-opacity="1.00"/><stop offset="0.625" stop-color="#005fff" stop-opacity="0.91"/><stop offset="0.688" stop-color="#0046ff" stop-opacity="0.67"/><stop offset="0.750" stop-color="#0033ff" stop-opacity="0.48"/><stop offset="0.812" stop-color="#0024ff" stop-opacity="0.34"/><stop offset="0.875" stop-color="#0019ff" stop-opacity="0.24"/><stop offset="0.938" stop-color="#0011ff" stop-opacity="0.16"/><stop offset="1.000" stop-color="#000bff" stop-opacity="0.11"/></radialGradient>
<radialGradient id="g28"><stop offset="0.000" stop-color="#0078ff" stop-opacity="1.00"/><stop offset="0.062" stop-color="#0074ff" stop-opacity="1.00"/><stop offset="0.125" stop-color="#006dff" stop-opacity="1.00"/><stop offset="0.188" stop-color="#0062ff" stop-opacity="0.93"/><stop offset="0.250" stop-color="#0056ff" stop-opacity="0.82"/><stop offset="0.312" stop-color="#0049ff" stop-opacity="0.69"/><stop offset="0.375" stop-color="#003cff" stop-opacity="0.58"/><stop offset="0.438" stop-color="#0031ff" stop-opacity="0.47"/><stop offset="0.500" stop-color="#0027ff" stop-opacity="0.37"/><stop offset="0.562" stop-color="#001eff" stop-opacity="0.28"/><stop offset="0.625" stop-color="#0016ff" stop-opacity="0.21"/><stop offset="0.688" stop-color="#0011ff" stop-opacity="0.16"/><stop offset="0.750" stop-color="#000cff" stop-opacity="0.11"/><stop offset="0.812" stop-color="#0008ff" stop-opacity="0.08"/><stop offset="0.875" stop-color="#0006ff" stop-opacity="0.06"/><stop offset="0.938" stop-color="#0004ff" stop-opacity="0.04"/><stop offset="1.000" stop-color="#0003ff" stop-opacity="0.03"/></radialGradient>
<radialGradient id="g29"><stop offset="0.000" stop-color="#17f1df" stop-opacity="1.00"/><stop offset="0.062" stop-color="#0ff1e7" stop-opacity="1.00"/><stop offset="0.125" stop-color="#00edf5" stop-opacity="1.00"/><stop offset="0.188" stop-color="#00d6f7" stop-opacity="1.00"/><stop offset="0.250" stop-color="#00bcf9" stop-opacity="1.00"/><stop offset="0.312" stop-color="#00a1fc" stop-opacity="1.00"/><stop offset="0.375" stop-color="#0087fe" stop-opacity="1.00"/><stop offset="0.438" stop-color="#006eff" stop-opacity="1.00"/><stop offset="0.500" stop-color="#0057ff" stop-opacity="0.83"/><stop offset="0.562" stop-color="#0043ff" stop-opacity="0.64"/><stop offset="0.625" stop-color="#0032ff" stop-opacity="0.48"/><stop offset="0.688" stop-color="#0025ff" stop-opacity="0.35"/><stop offset="0.750" stop-color="#001bff" stop-opacity="0.26"/><stop offset="0.812" stop-color="#0013ff" stop-opacity="0.18"/><stop offset="0.875" stop-color="#000dff" stop-opacity="0.13"/><stop offset="0.938" stop-color="#0009ff" stop-opacity="0.08"/><stop offset="1.000" stop-color="#0006ff" stop-opacity="0.06"/></radialGradient>
<clipPath id="pc7"><rect x="534.0" y="176.6" width="166.2" height="145.9"/></clipPath>
<radialGradient id="g30"><stop offset="0.000" stop-color="#ff1400" stop-opacity="1.00"/><stop offset="0.062" stop-color="#ff2706" stop-opacity="1.00"/><stop offset="0.125" stop-color="#ff5213" stop-opacity="1.00"/><stop offset="0.188" stop-color="#ff8c25" stop-opacity="1.00"/><stop offset="0.250" stop-color="#fcd40f" stop-opacity="1.00"/><stop offset="0.312" stop-color="#d3f827" stop-opacity="1.00"/><stop offset="0.375" stop-color="#85f575" stop-opacity="1.00"/><stop offset="0.438" stop-color="#3bf2bc" stop-opacity="1.00"/><stop offset="0.500" stop-color="#00eaf6" stop-opacity="1.00"/><stop offset="0.562" stop-color="#00b6fa" stop-opacity="1.00"/><stop offset="0.625" stop-color="#008bfd" stop-opacity="1.00"/><stop offset="0.688" stop-color="#0067ff" stop-opacity="0.98"/><stop offset="0.750" stop-color="#004bff" stop-opacity="0.71"/><stop offset="0.812" stop-color="#0035ff" stop-opacity="0.50"/><stop offset="0.875" stop-color="#0025ff" stop-opacity="0.35"/><stop offset="0.938" stop-color="#0019ff" stop-opacity="0.24"/><stop offset="1.000" stop-color="#0010ff" stop-opacity="0.16"/></radialGradient>
<radialGradient id="g31"><stop offset="0.000" stop-color="#007ffe" stop-opacity="1.00"/><stop offset="0.062" stop-color="#007cff" stop-opacity="1.00"/><stop offset="0.125" stop-color="#0073ff" stop-opacity="1.00"/><stop offset="0.188" stop-color="#0068ff" stop-opacity="0.99"/><stop offset="0.250" stop-color="#005bff" stop-opacity="0.87"/><stop offset="0.312" stop-color="#004dff" stop-opacity="0.74"/><stop offset="0.375" stop-color="#0040ff" stop-opacity="0.61"/><stop offset="0.438" stop-color="#0034ff" stop-opacity="0.49"/><stop offset="0.500" stop-color="#0029ff" stop-opacity="0.39"/><stop offset="0.562" stop-color="#0020ff" stop-opacity="0.30"/><stop offset="0.625" stop-color="#0018ff" stop-opacity="0.23"/><stop offset="0.688" stop-color="#0012ff" stop-opacity="0.17"/><stop offset="0.750" stop-color="#000dff" stop-opacity="0.12"/><stop offset="0.812" stop-color="#0009ff" stop-opacity="0.09"/><stop offset="0.875" stop-color="#0006ff" stop-opacity="0.06"/><stop offset="0.938" stop-color="#0004ff" stop-opacity="0.04"/><stop offset="1.000" stop-color="#0003ff" stop-opacity="0.03"/></radialGradient>
<radialGradient id="g32"><stop offset="0.000" stop-color="#003cff" stop-opacity="0.57"/><stop offset="0.062" stop-color="#003aff" stop-opacity="0.55"/><stop offset="0.125" stop-color="#0036ff" stop-opacity="0.52"/><stop offset="0.188" stop-color="#0031ff" stop-opacity="0.47"/><stop offset="0.250" stop-color="#002bff" stop-opacity="0.41"/><stop offset="0.312" stop-color="#0024ff" stop-opacity="0.35"/><stop offset="0.375" stop-color="#001eff" stop-opacity="0.29"/><stop offset="0.438" stop-color="#0018ff" stop-opacity="0.23"/><stop offset="0.500" stop-color="#0013ff" stop-opacity="0.18"/><stop offset="0.562" stop-color="#000fff" stop-opacity="0.14"/><stop offset="0.625" stop-color="#000bff" stop-opacity="0.11"/><stop offset="0.688" stop-color="#0008ff" stop-opacity="0.08"/><stop offset="0.750" stop-color="#0006ff" stop-opacity="0.06"/><stop offset="0.812" stop-color="#0004ff" stop-opacity="0.04"/><stop offset="0.875" stop-color="#0003ff" stop-opacity="0.03"/><stop offset="0.938" stop-color="#0002ff" stop-opacity="0.02"/><stop offset="1.000" stop-color="#0001ff" stop-opacity="0.01"/></radialGradient>
<radialGradient id="g33"><stop offset="0.000" stop-color="#ff1400" stop-opacity="1.00"/><stop offset="0.062" stop-color="#ff2706" stop-opacity="1.00"/><stop offset="0.125" stop-color="#ff5213" stop-opacity="1.00"/><stop offset="0.188" stop-color="#ff8c25" stop-opacity="1.00"/><stop offset="0.250" stop-color="#fcd40f" stop-opacity="1.00"/><stop offset="0.312" stop-color="#d3f827" stop-opacity="1.00"/><stop offset="0.375" stop-color="#85f575" stop-opacity="1.00"/><stop offset="0.438" stop-color="#3bf2bc" stop-opacity="1.00"/><stop offset="0.500" stop-color="#00eaf6" stop-opacity="1.00"/><stop offset="0.562" stop-color="#00b6fa" stop-opacity="1.00"/><stop offset="0.625" stop-color="#008bfd" stop-opacity="1.00"/><stop offset="0.688" stop-color="#0067ff" stop-opacity="0.98"/><stop offset="0.750" stop-color="#004bff" stop-opacity="0.71"/><stop offset="0.812" stop-color="#0035ff" stop-opacity="0.50"/><stop offset="0.875" stop-color="#0025ff" stop-opacity="0.35"/><stop offset="0.938" stop-color="#0019ff" stop-opacity="0.24"/><stop offset="1.000" stop-color="#0010ff" stop-opacity="0.16"/></radialGradient>
<linearGradient id="cb" x1="0" x2="1" y1="0" y2="0"><stop offset="0.000" stop-color="#0000ff"/><stop offset="0.050" stop-color="#0026ff"/><stop offset="0.100" stop-color="#004bff"/><stop offset="0.150" stop-color="#0070ff"/><stop offset="0.200" stop-color="#0094fd"/><stop offset="0.250" stop-color="#00b8fa"/><stop offset="0.300" stop-color="#00dbf7"/><stop offset="0.350" stop-color="#0ff1e6"/><stop offset="0.400" stop-color="#36f2c2"/><stop offset="0.450" stop-color="#5cf49d"/><stop offset="0.500" stop-color="#82f578"/><stop offset="0.550" stop-color="#a8f752"/><stop offset="0.600" stop-color="#cdf82d"/><stop offset="0.650" stop-color="#f2fa08"/><stop offset="0.700" stop-color="#fbdd0b"/><stop offset="0.750" stop-color="#fdba1a"/><stop offset="0.800" stop-color="#ff9628"/><stop offset="0.850" stop-color="#ff761e"/><stop offset="0.900" stop-color="#ff5514"/><stop offset="0.950" stop-color="#ff350a"/><stop offset="1.000" stop-color="#ff1400"/></linearGradient>
<clipPath id="clip1"><rect x="550.8" y="409.3" width="152.0" height="104.2"/></clipPath>
<linearGradient id="q34" x1="0" y1="0" x2="1" y2="0"><stop offset="0" stop-color="#1a70f0" stop-opacity="1"/><stop offset="0.3" stop-color="#1e84f0" stop-opacity="1"/><stop offset="0.7" stop-color="#2aaef0" stop-opacity="1"/><stop offset="1" stop-color="#2cbaf2" stop-opacity="1"/></linearGradient>
<linearGradient id="q35" x1="0" y1="0" x2="0" y2="1"><stop offset="0" stop-color="#1262f0" stop-opacity="1"/><stop offset="0.3" stop-color="#0a44f2" stop-opacity="1"/><stop offset="1" stop-color="#0424f6" stop-opacity="1"/></linearGradient>
<radialGradient id="q36" ><stop offset="0" stop-color="#46dce6" stop-opacity="0.85"/><stop offset="0.5" stop-color="#46dce6" stop-opacity="0.5"/><stop offset="1" stop-color="#46dce6" stop-opacity="0"/></radialGradient>
<radialGradient id="q37" ><stop offset="0" stop-color="#46dce6" stop-opacity="0.7"/><stop offset="0.7" stop-color="#46dce6" stop-opacity="0.4"/><stop offset="1" stop-color="#46dce6" stop-opacity="0"/></radialGradient>
<radialGradient id="q38" ><stop offset="0" stop-color="#46dce6" stop-opacity="0.9"/><stop offset="0.68" stop-color="#46dce6" stop-opacity="0.8"/><stop offset="1" stop-color="#46dce6" stop-opacity="0"/></radialGradient>
<radialGradient id="q39" ><stop offset="0" stop-color="#a0f0e0" stop-opacity="0.9"/><stop offset="0.5" stop-color="#70e8e4" stop-opacity="0.6"/><stop offset="1" stop-color="#46dce6" stop-opacity="0"/></radialGradient>
<radialGradient id="q40" ><stop offset="0" stop-color="#8cf0a0" stop-opacity="1"/><stop offset="0.6" stop-color="#60e8c0" stop-opacity="0.7"/><stop offset="1" stop-color="#46dce6" stop-opacity="0"/></radialGradient>
<radialGradient id="q41" ><stop offset="0" stop-color="#8cf0a0" stop-opacity="1"/><stop offset="0.6" stop-color="#60e8c0" stop-opacity="0.8"/><stop offset="1" stop-color="#46dce6" stop-opacity="0"/></radialGradient>
<radialGradient id="q42" ><stop offset="0" stop-color="#c8f064" stop-opacity="1"/><stop offset="0.6" stop-color="#8cf0a0" stop-opacity="0.9"/><stop offset="1" stop-color="#46dce6" stop-opacity="0"/></radialGradient>
<clipPath id="clip1s"><rect x="550.8" y="482.7" width="152.0" height="30.8"/></clipPath>
<radialGradient id="q43" ><stop offset="0" stop-color="#2a90f0" stop-opacity="0.9"/><stop offset="1" stop-color="#1262f0" stop-opacity="0"/></radialGradient>
<radialGradient id="q44" ><stop offset="0" stop-color="#2a98f0" stop-opacity="0.95"/><stop offset="1" stop-color="#1262f0" stop-opacity="0"/></radialGradient>
<radialGradient id="q45" cx="0.5" cy="0.45" r="0.75"><stop offset="0" stop-color="#103ce2" stop-opacity="1"/><stop offset="0.5" stop-color="#1246e4" stop-opacity="1"/><stop offset="1" stop-color="#1a74ec" stop-opacity="1"/></radialGradient>
<radialGradient id="q46" cx="0.6" cy="0.45" r="0.75"><stop offset="0" stop-color="#1658e8" stop-opacity="1"/><stop offset="0.5" stop-color="#1864ea" stop-opacity="1"/><stop offset="1" stop-color="#2088ee" stop-opacity="1"/></radialGradient>
<radialGradient id="q47" ><stop offset="0" stop-color="#0c40e6" stop-opacity="0.75"/><stop offset="0.5" stop-color="#1050ea" stop-opacity="0.45"/><stop offset="1" stop-color="#1468f0" stop-opacity="0"/></radialGradient>
<radialGradient id="q48" ><stop offset="0" stop-color="#0c40e6" stop-opacity="0.75"/><stop offset="0.5" stop-color="#1050ea" stop-opacity="0.45"/><stop offset="1" stop-color="#1468f0" stop-opacity="0"/></radialGradient>
<radialGradient id="q49" ><stop offset="0" stop-color="#0c40e6" stop-opacity="0.75"/><stop offset="0.5" stop-color="#1050ea" stop-opacity="0.45"/><stop offset="1" stop-color="#1468f0" stop-opacity="0"/></radialGradient>
<radialGradient id="q50" ><stop offset="0" stop-color="#0c40e6" stop-opacity="0.75"/><stop offset="0.5" stop-color="#1050ea" stop-opacity="0.45"/><stop offset="1" stop-color="#1468f0" stop-opacity="0"/></radialGradient>
<clipPath id="clip2"><rect x="550.8" y="547.5" width="152.0" height="106.7"/></clipPath>
<linearGradient id="q51" x1="0" y1="0" x2="1" y2="0"><stop offset="0" stop-color="#2496f0" stop-opacity="1"/><stop offset="0.5" stop-color="#2cb0f0" stop-opacity="1"/><stop offset="1" stop-color="#2cb8f2" stop-opacity="1"/></linearGradient>
<linearGradient id="q52" x1="0" y1="0" x2="0" y2="1"><stop offset="0" stop-color="#1a7cf0" stop-opacity="1"/><stop offset="0.3" stop-color="#0e52f2" stop-opacity="1"/><stop offset="1" stop-color="#0628f6" stop-opacity="1"/></linearGradient>
<radialGradient id="q53" ><stop offset="0" stop-color="#46dce6" stop-opacity="0.9"/><stop offset="0.6" stop-color="#46dce6" stop-opacity="0.55"/><stop offset="1" stop-color="#46dce6" stop-opacity="0"/></radialGradient>
<radialGradient id="q54" ><stop offset="0" stop-color="#8cf0a0" stop-opacity="0.95"/><stop offset="0.7" stop-color="#64e6c8" stop-opacity="0.85"/><stop offset="1" stop-color="#46dce6" stop-opacity="0"/></radialGradient>
<radialGradient id="q55" ><stop offset="0" stop-color="#8cf0a0" stop-opacity="0.95"/><stop offset="0.73" stop-color="#64e6c8" stop-opacity="0.85"/><stop offset="1" stop-color="#46dce6" stop-opacity="0"/></radialGradient>
<radialGradient id="q56" ><stop offset="0" stop-color="#c8f064" stop-opacity="1"/><stop offset="0.6" stop-color="#8cf0a0" stop-opacity="0.8"/><stop offset="1" stop-color="#8cf0a0" stop-opacity="0"/></radialGradient>
<radialGradient id="q57" ><stop offset="0" stop-color="#c8f064" stop-opacity="1"/><stop offset="0.6" stop-color="#8cf0a0" stop-opacity="0.85"/><stop offset="1" stop-color="#46dce6" stop-opacity="0"/></radialGradient>
<radialGradient id="q58" ><stop offset="0" stop-color="#c8f064" stop-opacity="1"/><stop offset="0.6" stop-color="#8cf0a0" stop-opacity="0.85"/><stop offset="1" stop-color="#46dce6" stop-opacity="0"/></radialGradient>
<clipPath id="clip2s"><rect x="550.8" y="624.4" width="152.0" height="29.8"/></clipPath>
<radialGradient id="q59" ><stop offset="0" stop-color="#38b4f0" stop-opacity="0.95"/><stop offset="1" stop-color="#1a7cf0" stop-opacity="0"/></radialGradient>
<radialGradient id="q60" ><stop offset="0" stop-color="#38b4f0" stop-opacity="0.95"/><stop offset="1" stop-color="#1a7cf0" stop-opacity="0"/></radialGradient>
<radialGradient id="q61" cx="0.35" cy="0.3" r="0.75"><stop offset="0" stop-color="#1a64e8" stop-opacity="1"/><stop offset="0.5" stop-color="#1c78ea" stop-opacity="1"/><stop offset="1" stop-color="#28a0ec" stop-opacity="1"/></radialGradient>
<radialGradient id="q62" cx="0.65" cy="0.3" r="0.75"><stop offset="0" stop-color="#1448e4" stop-opacity="1"/><stop offset="0.5" stop-color="#1864e8" stop-opacity="1"/><stop offset="1" stop-color="#2490ec" stop-opacity="1"/></radialGradient>
<radialGradient id="q63" ><stop offset="0" stop-color="#0c40e6" stop-opacity="0.75"/><stop offset="0.5" stop-color="#1050ea" stop-opacity="0.45"/><stop offset="1" stop-color="#1468f0" stop-opacity="0"/></radialGradient>
<radialGradient id="q64" ><stop offset="0" stop-color="#0c40e6" stop-opacity="0.75"/><stop offset="0.5" stop-color="#1050ea" stop-opacity="0.45"/><stop offset="1" stop-color="#1468f0" stop-opacity="0"/></radialGradient>
</defs>
<rect width="709" height="784" fill="#fff"/>
<rect x="22.8" y="1.4" width="166.0" height="145.9" fill="#0000ff"/>
<rect x="23.7" y="176.6" width="165.7" height="145.9" fill="#0000ff"/>
<rect x="193.2" y="1.4" width="166.4" height="145.9" fill="#0000ff"/>
<rect x="193.9" y="176.6" width="165.7" height="145.9" fill="#0000ff"/>
<rect x="363.9" y="1.4" width="166.3" height="145.9" fill="#0000ff"/>
<rect x="364.5" y="176.6" width="166.1" height="145.9" fill="#0000ff"/>
<rect x="533.6" y="1.4" width="165.7" height="145.9" fill="#0000ff"/>
<rect x="534.0" y="176.6" width="166.2" height="145.9" fill="#0000ff"/>
<g clip-path="url(#pc0)">
<circle cx="71.3" cy="64.4" r="25.6" fill="url(#halo)" opacity="0.73"/>
<circle cx="118.7" cy="52.5" r="28.4" fill="url(#halo)" opacity="0.98"/>
<circle cx="54.3" cy="94.6" r="23.0" fill="url(#halo)" opacity="0.98"/>
<circle cx="154.8" cy="102.8" r="24.6" fill="url(#halo)" opacity="0.64"/>
<circle cx="71.3" cy="64.4" r="10.8" fill="url(#g1)"/>
<circle cx="118.7" cy="52.5" r="9.6" fill="url(#g2)"/>
<circle cx="54.3" cy="94.6" r="7.8" fill="url(#g3)"/>
<circle cx="154.8" cy="102.8" r="11.4" fill="url(#g4)"/>
</g>
<g clip-path="url(#pc1)">
<circle cx="289.2" cy="51.6" r="30.8" fill="url(#halo)" opacity="0.94"/>
<circle cx="241.1" cy="63.7" r="15.8" fill="url(#halo)" opacity="0.51"/>
<circle cx="224.6" cy="94.2" r="16.8" fill="url(#halo)" opacity="0.56"/>
<circle cx="327.4" cy="101.5" r="39.6" fill="url(#halo)" opacity="1.00"/>
<circle cx="289.2" cy="51.6" r="10.8" fill="url(#g5)"/>
<circle cx="241.1" cy="63.7" r="8.4" fill="url(#g6)"/>
<circle cx="224.6" cy="94.2" r="8.4" fill="url(#g7)"/>
<circle cx="327.4" cy="101.5" r="13.2" fill="url(#g8)"/>
</g>
<g clip-path="url(#pc2)">
<circle cx="411.3" cy="63.3" r="36.0" fill="url(#halo)" opacity="1.00"/>
<circle cx="460.4" cy="50.6" r="30.6" fill="url(#halo)" opacity="0.80"/>
<circle cx="395.0" cy="93.7" r="16.8" fill="url(#halo)" opacity="0.56"/>
<circle cx="498.2" cy="101.0" r="41.4" fill="url(#halo)" opacity="1.00"/>
<circle cx="411.3" cy="63.3" r="12.0" fill="url(#g9)"/>
<circle cx="460.4" cy="50.6" r="12.0" fill="url(#g10)"/>
<circle cx="395.0" cy="93.7" r="8.4" fill="url(#g11)"/>
<circle cx="498.2" cy="101.0" r="13.8" fill="url(#g12)"/>
</g>
<g clip-path="url(#pc3)">
<circle cx="580.9" cy="62.8" r="22.0" fill="url(#halo)" opacity="0.58"/>
<circle cx="629.2" cy="50.8" r="29.3" fill="url(#halo)" opacity="0.76"/>
<circle cx="565.2" cy="93.7" r="17.8" fill="url(#halo)" opacity="0.41"/>
<circle cx="668.5" cy="101.3" r="45.0" fill="url(#halo)" opacity="1.00"/>
<circle cx="580.9" cy="62.8" r="10.8" fill="url(#g13)"/>
<circle cx="629.2" cy="50.8" r="12.0" fill="url(#g14)"/>
<circle cx="565.2" cy="93.7" r="10.8" fill="url(#g15)"/>
<circle cx="668.5" cy="101.3" r="15.0" fill="url(#g16)"/>
</g>
<g clip-path="url(#pc4)">
<circle cx="119.9" cy="227.9" r="30.1" fill="url(#halo)" opacity="0.98"/>
<circle cx="72.6" cy="238.6" r="20.2" fill="url(#halo)" opacity="0.61"/>
<circle cx="54.9" cy="269.0" r="17.1" fill="url(#halo)" opacity="0.58"/>
<circle cx="159.2" cy="274.8" r="33.7" fill="url(#halo)" opacity="0.98"/>
<circle cx="119.9" cy="227.9" r="10.2" fill="url(#g17)"/>
<circle cx="72.6" cy="238.6" r="9.6" fill="url(#g18)"/>
<circle cx="54.9" cy="269.0" r="8.4" fill="url(#g19)"/>
<circle cx="159.2" cy="274.8" r="11.4" fill="url(#g20)"/>
<g mask="url(#m1)">
<circle cx="156.9" cy="282.6" r="13.8" fill="url(#g21)"/>
</g>
</g>
<g clip-path="url(#pc5)">
<circle cx="242.8" cy="237.5" r="32.6" fill="url(#halo)" opacity="0.97"/>
<circle cx="290.5" cy="227.4" r="19.2" fill="url(#halo)" opacity="0.56"/>
<circle cx="225.0" cy="269.5" r="27.0" fill="url(#halo)" opacity="0.95"/>
<circle cx="329.1" cy="275.6" r="32.4" fill="url(#halo)" opacity="0.87"/>
<circle cx="242.8" cy="237.5" r="11.2" fill="url(#g22)"/>
<circle cx="290.5" cy="227.4" r="9.6" fill="url(#g23)"/>
<circle cx="225.0" cy="269.5" r="9.4" fill="url(#g24)"/>
<circle cx="329.1" cy="275.6" r="12.0" fill="url(#g25)"/>
</g>
<g clip-path="url(#pc6)">
<circle cx="461.4" cy="226.2" r="39.6" fill="url(#halo)" opacity="1.00"/>
<circle cx="411.8" cy="237.3" r="30.2" fill="url(#halo)" opacity="0.79"/>
<circle cx="395.6" cy="268.7" r="18.8" fill="url(#halo)" opacity="0.45"/>
<circle cx="498.4" cy="276.3" r="24.5" fill="url(#halo)" opacity="0.58"/>
<circle cx="461.4" cy="226.2" r="13.2" fill="url(#g26)"/>
<circle cx="411.8" cy="237.3" r="12.0" fill="url(#g27)"/>
<circle cx="395.6" cy="268.7" r="10.8" fill="url(#g28)"/>
<circle cx="498.4" cy="276.3" r="12.0" fill="url(#g29)"/>
</g>
<g clip-path="url(#pc7)">
<circle cx="630.0" cy="225.7" r="39.6" fill="url(#halo)" opacity="1.00"/>
<circle cx="582.4" cy="236.3" r="21.1" fill="url(#halo)" opacity="0.46"/>
<circle cx="566.2" cy="268.7" r="17.5" fill="url(#halo)" opacity="0.40"/>
<circle cx="669.5" cy="276.8" r="45.0" fill="url(#halo)" opacity="1.00"/>
<circle cx="630.0" cy="225.7" r="13.2" fill="url(#g30)"/>
<circle cx="582.4" cy="236.3" r="12.0" fill="url(#g31)"/>
<circle cx="566.2" cy="268.7" r="10.8" fill="url(#g32)"/>
<circle cx="669.5" cy="276.8" r="15.0" fill="url(#g33)"/>
</g>
<text x="66.8" y="26.1" font-size="22.32" fill="#f7ea3b" font-family="Liberation Sans, sans-serif" font-weight="bold" textLength="46.9" lengthAdjust="spacingAndGlyphs" stroke="#f7ea3b" stroke-width="0.35" stroke-linejoin="round">LCP-</text>
<text x="114.7" y="26.1" font-size="22.32" fill="#f7ea3b" font-family="Liberation Sans, sans-serif" font-weight="bold" textLength="64.0" lengthAdjust="spacingAndGlyphs" stroke="#f7ea3b" stroke-width="0.35" stroke-linejoin="round">590nm</text>
<text x="235.3" y="26.5" font-size="22.32" fill="#f7ea3b" font-family="Liberation Sans, sans-serif" font-weight="bold" textLength="46.9" lengthAdjust="spacingAndGlyphs" stroke="#f7ea3b" stroke-width="0.35" stroke-linejoin="round">LCP-</text>
<text x="283.2" y="26.5" font-size="22.32" fill="#f7ea3b" font-family="Liberation Sans, sans-serif" font-weight="bold" textLength="64.5" lengthAdjust="spacingAndGlyphs" stroke="#f7ea3b" stroke-width="0.35" stroke-linejoin="round">635nm</text>
<text x="404.9" y="25.6" font-size="22.32" fill="#f7ea3b" font-family="Liberation Sans, sans-serif" font-weight="bold" textLength="46.9" lengthAdjust="spacingAndGlyphs" stroke="#f7ea3b" stroke-width="0.35" stroke-linejoin="round">LCP-</text>
<text x="452.8" y="25.6" font-size="22.32" fill="#f7ea3b" font-family="Liberation Sans, sans-serif" font-weight="bold" textLength="63.7" lengthAdjust="spacingAndGlyphs" stroke="#f7ea3b" stroke-width="0.35" stroke-linejoin="round">710nm</text>
<text x="576.8" y="25.9" font-size="22.32" fill="#f7ea3b" font-family="Liberation Sans, sans-serif" font-weight="bold" textLength="46.9" lengthAdjust="spacingAndGlyphs" stroke="#f7ea3b" stroke-width="0.35" stroke-linejoin="round">LCP-</text>
<text x="624.7" y="25.9" font-size="22.32" fill="#f7ea3b" font-family="Liberation Sans, sans-serif" font-weight="bold" textLength="65.0" lengthAdjust="spacingAndGlyphs" stroke="#f7ea3b" stroke-width="0.35" stroke-linejoin="round">785nm</text>
<text x="65.4" y="200.0" font-size="22.32" fill="#f7ea3b" font-family="Liberation Sans, sans-serif" font-weight="bold" textLength="50.2" lengthAdjust="spacingAndGlyphs" stroke="#f7ea3b" stroke-width="0.35" stroke-linejoin="round">RCP-</text>
<text x="116.6" y="200.0" font-size="22.32" fill="#f7ea3b" font-family="Liberation Sans, sans-serif" font-weight="bold" textLength="64.2" lengthAdjust="spacingAndGlyphs" stroke="#f7ea3b" stroke-width="0.35" stroke-linejoin="round">590nm</text>
<text x="235.3" y="202.5" font-size="22.32" fill="#f7ea3b" font-family="Liberation Sans, sans-serif" font-weight="bold" textLength="50.2" lengthAdjust="spacingAndGlyphs" stroke="#f7ea3b" stroke-width="0.35" stroke-linejoin="round">RCP-</text>
<text x="286.5" y="202.5" font-size="22.32" fill="#f7ea3b" font-family="Liberation Sans, sans-serif" font-weight="bold" textLength="64.2" lengthAdjust="spacingAndGlyphs" stroke="#f7ea3b" stroke-width="0.35" stroke-linejoin="round">635nm</text>
<text x="402.8" y="203.0" font-size="22.32" fill="#f7ea3b" font-family="Liberation Sans, sans-serif" font-weight="bold" textLength="50.2" lengthAdjust="spacingAndGlyphs" stroke="#f7ea3b" stroke-width="0.35" stroke-linejoin="round">RCP-</text>
<text x="454.0" y="203.0" font-size="22.32" fill="#f7ea3b" font-family="Liberation Sans, sans-serif" font-weight="bold" textLength="63.3" lengthAdjust="spacingAndGlyphs" stroke="#f7ea3b" stroke-width="0.35" stroke-linejoin="round">710nm</text>
<text x="574.8" y="203.0" font-size="22.32" fill="#f7ea3b" font-family="Liberation Sans, sans-serif" font-weight="bold" textLength="50.2" lengthAdjust="spacingAndGlyphs" stroke="#f7ea3b" stroke-width="0.35" stroke-linejoin="round">RCP-</text>
<text x="626.0" y="203.0" font-size="22.32" fill="#f7ea3b" font-family="Liberation Sans, sans-serif" font-weight="bold" textLength="64.5" lengthAdjust="spacingAndGlyphs" stroke="#f7ea3b" stroke-width="0.35" stroke-linejoin="round">785nm</text>
<rect x="31.35" y="120.2" width="3.1" height="21.6" fill="#f7ea3b"/>
<rect x="55.05" y="120.2" width="3.1" height="21.6" fill="#f7ea3b"/>
<rect x="39.85" y="122.1" width="3.4" height="15.4" fill="#f7ea3b"/>
<rect x="39.85" y="122.10" width="9.9" height="2.9" fill="#f7ea3b"/>
<rect x="39.85" y="128.25" width="8.8" height="2.9" fill="#f7ea3b"/>
<rect x="39.85" y="134.60" width="9.9" height="2.9" fill="#f7ea3b"/>
<rect x="200.65" y="120.2" width="3.1" height="22.0" fill="#f7ea3b"/>
<rect x="224.35" y="120.2" width="3.1" height="22.0" fill="#f7ea3b"/>
<rect x="209.15" y="122.5" width="3.4" height="15.5" fill="#f7ea3b"/>
<rect x="209.15" y="122.50" width="9.9" height="2.9" fill="#f7ea3b"/>
<rect x="209.15" y="128.70" width="8.8" height="2.9" fill="#f7ea3b"/>
<rect x="209.15" y="135.10" width="9.9" height="2.9" fill="#f7ea3b"/>
<rect x="370.55" y="120.6" width="3.1" height="21.6" fill="#f7ea3b"/>
<rect x="394.25" y="120.6" width="3.1" height="21.6" fill="#f7ea3b"/>
<rect x="379.05" y="122.5" width="3.4" height="15.5" fill="#f7ea3b"/>
<rect x="379.05" y="122.50" width="9.9" height="2.9" fill="#f7ea3b"/>
<rect x="379.05" y="128.70" width="8.8" height="2.9" fill="#f7ea3b"/>
<rect x="379.05" y="135.10" width="9.9" height="2.9" fill="#f7ea3b"/>
<rect x="541.55" y="119.9" width="3.1" height="21.9" fill="#f7ea3b"/>
<rect x="565.25" y="119.9" width="3.1" height="21.9" fill="#f7ea3b"/>
<rect x="550.05" y="122.1" width="3.4" height="15.5" fill="#f7ea3b"/>
<rect x="550.05" y="122.10" width="9.9" height="2.9" fill="#f7ea3b"/>
<rect x="550.05" y="128.30" width="8.8" height="2.9" fill="#f7ea3b"/>
<rect x="550.05" y="134.70" width="9.9" height="2.9" fill="#f7ea3b"/>
<rect x="31.35" y="297.2" width="3.1" height="21.6" fill="#f7ea3b"/>
<rect x="55.05" y="297.2" width="3.1" height="21.6" fill="#f7ea3b"/>
<rect x="39.85" y="299.4" width="3.4" height="15.6" fill="#f7ea3b"/>
<rect x="39.85" y="299.40" width="9.9" height="2.9" fill="#f7ea3b"/>
<rect x="39.85" y="305.65" width="8.8" height="2.9" fill="#f7ea3b"/>
<rect x="39.85" y="312.10" width="9.9" height="2.9" fill="#f7ea3b"/>
<rect x="201.25" y="297.2" width="3.1" height="21.8" fill="#f7ea3b"/>
<rect x="224.95" y="297.2" width="3.1" height="21.8" fill="#f7ea3b"/>
<rect x="209.75" y="299.4" width="3.4" height="15.6" fill="#f7ea3b"/>
<rect x="209.75" y="299.40" width="9.9" height="2.9" fill="#f7ea3b"/>
<rect x="209.75" y="305.65" width="8.8" height="2.9" fill="#f7ea3b"/>
<rect x="209.75" y="312.10" width="9.9" height="2.9" fill="#f7ea3b"/>
<rect x="371.35" y="298.0" width="3.1" height="21.5" fill="#f7ea3b"/>
<rect x="395.05" y="298.0" width="3.1" height="21.5" fill="#f7ea3b"/>
<rect x="379.85" y="300.5" width="3.4" height="15.5" fill="#f7ea3b"/>
<rect x="379.85" y="300.50" width="9.9" height="2.9" fill="#f7ea3b"/>
<rect x="379.85" y="306.70" width="8.8" height="2.9" fill="#f7ea3b"/>
<rect x="379.85" y="313.10" width="9.9" height="2.9" fill="#f7ea3b"/>
<rect x="542.85" y="296.7" width="3.1" height="21.6" fill="#f7ea3b"/>
<rect x="566.55" y="296.7" width="3.1" height="21.6" fill="#f7ea3b"/>
<rect x="551.35" y="298.9" width="3.4" height="15.7" fill="#f7ea3b"/>
<rect x="551.35" y="298.90" width="9.9" height="2.9" fill="#f7ea3b"/>
<rect x="551.35" y="305.20" width="8.8" height="2.9" fill="#f7ea3b"/>
<rect x="551.35" y="311.70" width="9.9" height="2.9" fill="#f7ea3b"/>
<text x="54.5" y="57.0" font-size="19.13" fill="#ee1830" font-family="Liberation Sans, sans-serif" font-weight="bold" textLength="21.1" lengthAdjust="spacingAndGlyphs" stroke="#ee1830" stroke-width="0.50" stroke-linejoin="round">F2</text>
<text x="127.9" y="54.7" font-size="19.42" fill="#ee1830" font-family="Liberation Sans, sans-serif" font-weight="bold" textLength="20.6" lengthAdjust="spacingAndGlyphs" stroke="#ee1830" stroke-width="0.50" stroke-linejoin="round">F3</text>
<text x="32.0" y="101.0" font-size="19.42" fill="#ee1830" font-family="Liberation Sans, sans-serif" font-weight="bold" textLength="18.1" lengthAdjust="spacingAndGlyphs" stroke="#ee1830" stroke-width="0.50" stroke-linejoin="round">F1</text>
<text x="154.3" y="92.0" font-size="19.42" fill="#ee1830" font-family="Liberation Sans, sans-serif" font-weight="bold" textLength="20.6" lengthAdjust="spacingAndGlyphs" stroke="#ee1830" stroke-width="0.50" stroke-linejoin="round">F4</text>
<path d="M161.2,279.6 L164.2,281.2" fill="none" stroke="#0010c8" stroke-width="1.6" stroke-linecap="round" opacity="0.8"/>
<circle cx="163.2" cy="103.2" r="5.5" fill="url(#halo)" opacity="0.9"/>
<path d="M159.0,99.3 Q160.6,102.8 159.6,106.6" fill="none" stroke="#0010c8" stroke-width="1.3" stroke-linecap="round" opacity="0.85"/>
<rect x="65.0" y="152.9" width="89.7" height="15.7" fill="url(#cb)" stroke="#444" stroke-width="0.7"/>
<line x1="131.8" y1="152.9" x2="131.8" y2="168.6" stroke="#222" stroke-width="0.6" opacity="0.5"/>
<text x="24.1" y="169.3" font-size="21.74" fill="#000" font-family="Liberation Sans, sans-serif" font-weight="bold" textLength="38.9" lengthAdjust="spacingAndGlyphs" stroke="#000" stroke-width="0.35" stroke-linejoin="round">0.54</text>
<text x="159.2" y="169.3" font-size="21.74" fill="#000" font-family="Liberation Sans, sans-serif" font-weight="bold" textLength="33.3" lengthAdjust="spacingAndGlyphs" stroke="#000" stroke-width="0.35" stroke-linejoin="round">270</text>
<rect x="228.8" y="152.9" width="89.4" height="15.7" fill="url(#cb)" stroke="#444" stroke-width="0.7"/>
<line x1="295.4" y1="152.9" x2="295.4" y2="168.6" stroke="#222" stroke-width="0.6" opacity="0.5"/>
<text x="199.1" y="169.3" font-size="21.74" fill="#000" font-family="Liberation Sans, sans-serif" font-weight="bold" textLength="28.3" lengthAdjust="spacingAndGlyphs" stroke="#000" stroke-width="0.35" stroke-linejoin="round">0.2</text>
<text x="323.5" y="169.3" font-size="21.74" fill="#000" font-family="Liberation Sans, sans-serif" font-weight="bold" textLength="34.4" lengthAdjust="spacingAndGlyphs" stroke="#000" stroke-width="0.35" stroke-linejoin="round">346</text>
<rect x="405.8" y="152.9" width="89.6" height="15.7" fill="url(#cb)" stroke="#444" stroke-width="0.7"/>
<line x1="472.6" y1="152.9" x2="472.6" y2="168.6" stroke="#222" stroke-width="0.6" opacity="0.5"/>
<text x="364.8" y="169.3" font-size="21.74" fill="#000" font-family="Liberation Sans, sans-serif" font-weight="bold" textLength="40.0" lengthAdjust="spacingAndGlyphs" stroke="#000" stroke-width="0.35" stroke-linejoin="round">0.49</text>
<text x="498.6" y="169.3" font-size="21.74" fill="#000" font-family="Liberation Sans, sans-serif" font-weight="bold" textLength="33.9" lengthAdjust="spacingAndGlyphs" stroke="#000" stroke-width="0.35" stroke-linejoin="round">333</text>
<rect x="570.9" y="152.9" width="90.6" height="15.7" fill="url(#cb)" stroke="#444" stroke-width="0.7"/>
<line x1="638.4" y1="152.9" x2="638.4" y2="168.6" stroke="#222" stroke-width="0.6" opacity="0.5"/>
<text x="541.4" y="169.3" font-size="21.74" fill="#000" font-family="Liberation Sans, sans-serif" font-weight="bold" textLength="28.0" lengthAdjust="spacingAndGlyphs" stroke="#000" stroke-width="0.35" stroke-linejoin="round">0.2</text>
<text x="666.8" y="169.3" font-size="21.74" fill="#000" font-family="Liberation Sans, sans-serif" font-weight="bold" textLength="34.6" lengthAdjust="spacingAndGlyphs" stroke="#000" stroke-width="0.35" stroke-linejoin="round">383</text>
<rect x="65.3" y="326.9" width="89.8" height="15.5" fill="url(#cb)" stroke="#444" stroke-width="0.7"/>
<line x1="132.2" y1="326.9" x2="132.2" y2="342.4" stroke="#222" stroke-width="0.6" opacity="0.5"/>
<text x="20.8" y="343.9" font-size="21.74" fill="#000" font-family="Liberation Sans, sans-serif" font-weight="bold" textLength="39.7" lengthAdjust="spacingAndGlyphs" stroke="#000" stroke-width="0.35" stroke-linejoin="round">0.32</text>
<text x="159.4" y="343.9" font-size="21.74" fill="#000" font-family="Liberation Sans, sans-serif" font-weight="bold" textLength="31.8" lengthAdjust="spacingAndGlyphs" stroke="#000" stroke-width="0.35" stroke-linejoin="round">187</text>
<rect x="235.9" y="326.9" width="90.1" height="15.5" fill="url(#cb)" stroke="#444" stroke-width="0.7"/>
<line x1="303.0" y1="326.9" x2="303.0" y2="342.4" stroke="#222" stroke-width="0.6" opacity="0.5"/>
<text x="192.4" y="343.9" font-size="21.74" fill="#000" font-family="Liberation Sans, sans-serif" font-weight="bold" textLength="40.7" lengthAdjust="spacingAndGlyphs" stroke="#000" stroke-width="0.35" stroke-linejoin="round">0.37</text>
<text x="328.7" y="343.9" font-size="21.74" fill="#000" font-family="Liberation Sans, sans-serif" font-weight="bold" textLength="32.7" lengthAdjust="spacingAndGlyphs" stroke="#000" stroke-width="0.35" stroke-linejoin="round">319</text>
<rect x="406.4" y="326.9" width="89.6" height="15.5" fill="url(#cb)" stroke="#444" stroke-width="0.7"/>
<line x1="473.2" y1="326.9" x2="473.2" y2="342.4" stroke="#222" stroke-width="0.6" opacity="0.5"/>
<text x="363.4" y="343.9" font-size="21.74" fill="#000" font-family="Liberation Sans, sans-serif" font-weight="bold" textLength="41.0" lengthAdjust="spacingAndGlyphs" stroke="#000" stroke-width="0.35" stroke-linejoin="round">0.48</text>
<text x="499.5" y="343.9" font-size="21.74" fill="#000" font-family="Liberation Sans, sans-serif" font-weight="bold" textLength="33.9" lengthAdjust="spacingAndGlyphs" stroke="#000" stroke-width="0.35" stroke-linejoin="round">463</text>
<rect x="580.5" y="326.9" width="89.9" height="15.5" fill="url(#cb)" stroke="#444" stroke-width="0.7"/>
<line x1="647.5" y1="326.9" x2="647.5" y2="342.4" stroke="#222" stroke-width="0.6" opacity="0.5"/>
<text x="538.8" y="343.9" font-size="21.74" fill="#000" font-family="Liberation Sans, sans-serif" font-weight="bold" textLength="39.5" lengthAdjust="spacingAndGlyphs" stroke="#000" stroke-width="0.35" stroke-linejoin="round">0.19</text>
<text x="673.4" y="343.9" font-size="21.74" fill="#000" font-family="Liberation Sans, sans-serif" font-weight="bold" textLength="34.4" lengthAdjust="spacingAndGlyphs" stroke="#000" stroke-width="0.35" stroke-linejoin="round">386</text>
<text transform="translate(0.1,13.7) scale(1.08,1)" font-size="21.5" fill="#000" font-family="Liberation Sans, sans-serif" font-weight="bold">a</text>
<text x="-0.2" y="195.6" font-size="24" fill="#000" font-family="Liberation Sans, sans-serif" font-weight="bold">b</text>
<text x="0.2" y="371.4" font-size="25" fill="#000" font-family="Liberation Sans, sans-serif" font-weight="bold">c</text>
<line x1="81.4" y1="452.20" x2="543.3" y2="452.20" stroke="#000" stroke-width="2.8"/>
<line x1="121.1" y1="452.20" x2="121.1" y2="447.60" stroke="#000" stroke-width="2.4"/>
<line x1="159.3" y1="452.20" x2="159.3" y2="443.60" stroke="#000" stroke-width="2.4"/>
<line x1="197.6" y1="452.20" x2="197.6" y2="447.60" stroke="#000" stroke-width="2.4"/>
<line x1="235.8" y1="452.20" x2="235.8" y2="443.60" stroke="#000" stroke-width="2.4"/>
<line x1="274.1" y1="452.20" x2="274.1" y2="447.60" stroke="#000" stroke-width="2.4"/>
<line x1="312.4" y1="452.20" x2="312.4" y2="443.60" stroke="#000" stroke-width="2.4"/>
<line x1="350.6" y1="452.20" x2="350.6" y2="447.60" stroke="#000" stroke-width="2.4"/>
<line x1="388.9" y1="452.20" x2="388.9" y2="443.60" stroke="#000" stroke-width="2.4"/>
<line x1="427.1" y1="452.20" x2="427.1" y2="447.60" stroke="#000" stroke-width="2.4"/>
<line x1="465.4" y1="452.20" x2="465.4" y2="443.60" stroke="#000" stroke-width="2.4"/>
<line x1="503.6" y1="452.20" x2="503.6" y2="447.60" stroke="#000" stroke-width="2.4"/>
<line x1="82.8" y1="443.60" x2="92.0" y2="443.60" stroke="#000" stroke-width="2.6"/>
<text x="72.5" y="447.6" font-size="20.3" fill="#000" text-anchor="end" font-family="Liberation Sans, sans-serif" font-weight="bold">0</text>
<line x1="82.8" y1="427.00" x2="88.0" y2="427.00" stroke="#000" stroke-width="2.6"/>
<line x1="82.8" y1="410.40" x2="92.0" y2="410.40" stroke="#000" stroke-width="2.6"/>
<text x="72.5" y="414.4" font-size="20.3" fill="#000" text-anchor="end" font-family="Liberation Sans, sans-serif" font-weight="bold">200</text>
<line x1="82.8" y1="393.80" x2="88.0" y2="393.80" stroke="#000" stroke-width="2.6"/>
<line x1="82.8" y1="377.20" x2="92.0" y2="377.20" stroke="#000" stroke-width="2.6"/>
<text x="72.5" y="381.2" font-size="20.3" fill="#000" text-anchor="end" font-family="Liberation Sans, sans-serif" font-weight="bold">400</text>
<text x="95.2" y="435.4" font-size="20.43" fill="#000" font-family="Liberation Sans, sans-serif" font-weight="bold" textLength="20.8" lengthAdjust="spacingAndGlyphs">F1</text>
<line x1="81.4" y1="543.75" x2="543.3" y2="543.75" stroke="#000" stroke-width="2.8"/>
<line x1="121.1" y1="543.75" x2="121.1" y2="539.15" stroke="#000" stroke-width="2.4"/>
<line x1="159.3" y1="543.75" x2="159.3" y2="535.15" stroke="#000" stroke-width="2.4"/>
<line x1="197.6" y1="543.75" x2="197.6" y2="539.15" stroke="#000" stroke-width="2.4"/>
<line x1="235.8" y1="543.75" x2="235.8" y2="535.15" stroke="#000" stroke-width="2.4"/>
<line x1="274.1" y1="543.75" x2="274.1" y2="539.15" stroke="#000" stroke-width="2.4"/>
<line x1="312.4" y1="543.75" x2="312.4" y2="535.15" stroke="#000" stroke-width="2.4"/>
<line x1="350.6" y1="543.75" x2="350.6" y2="539.15" stroke="#000" stroke-width="2.4"/>
<line x1="388.9" y1="543.75" x2="388.9" y2="535.15" stroke="#000" stroke-width="2.4"/>
<line x1="427.1" y1="543.75" x2="427.1" y2="539.15" stroke="#000" stroke-width="2.4"/>
<line x1="465.4" y1="543.75" x2="465.4" y2="535.15" stroke="#000" stroke-width="2.4"/>
<line x1="503.6" y1="543.75" x2="503.6" y2="539.15" stroke="#000" stroke-width="2.4"/>
<line x1="82.8" y1="535.70" x2="92.0" y2="535.70" stroke="#000" stroke-width="2.6"/>
<text x="72.5" y="539.7" font-size="20.3" fill="#000" text-anchor="end" font-family="Liberation Sans, sans-serif" font-weight="bold">0</text>
<line x1="82.8" y1="519.10" x2="88.0" y2="519.10" stroke="#000" stroke-width="2.6"/>
<line x1="82.8" y1="502.50" x2="92.0" y2="502.50" stroke="#000" stroke-width="2.6"/>
<text x="72.5" y="506.5" font-size="20.3" fill="#000" text-anchor="end" font-family="Liberation Sans, sans-serif" font-weight="bold">200</text>
<line x1="82.8" y1="485.90" x2="88.0" y2="485.90" stroke="#000" stroke-width="2.6"/>
<line x1="82.8" y1="469.30" x2="92.0" y2="469.30" stroke="#000" stroke-width="2.6"/>
<text x="72.5" y="473.3" font-size="20.3" fill="#000" text-anchor="end" font-family="Liberation Sans, sans-serif" font-weight="bold">400</text>
<text x="89.9" y="526.5" font-size="20.43" fill="#000" font-family="Liberation Sans, sans-serif" font-weight="bold" textLength="22.6" lengthAdjust="spacingAndGlyphs">F2</text>
<line x1="81.4" y1="635.30" x2="543.3" y2="635.30" stroke="#000" stroke-width="2.8"/>
<line x1="121.1" y1="635.30" x2="121.1" y2="630.70" stroke="#000" stroke-width="2.4"/>
<line x1="159.3" y1="635.30" x2="159.3" y2="626.70" stroke="#000" stroke-width="2.4"/>
<line x1="197.6" y1="635.30" x2="197.6" y2="630.70" stroke="#000" stroke-width="2.4"/>
<line x1="235.8" y1="635.30" x2="235.8" y2="626.70" stroke="#000" stroke-width="2.4"/>
<line x1="274.1" y1="635.30" x2="274.1" y2="630.70" stroke="#000" stroke-width="2.4"/>
<line x1="312.4" y1="635.30" x2="312.4" y2="626.70" stroke="#000" stroke-width="2.4"/>
<line x1="350.6" y1="635.30" x2="350.6" y2="630.70" stroke="#000" stroke-width="2.4"/>
<line x1="388.9" y1="635.30" x2="388.9" y2="626.70" stroke="#000" stroke-width="2.4"/>
<line x1="427.1" y1="635.30" x2="427.1" y2="630.70" stroke="#000" stroke-width="2.4"/>
<line x1="465.4" y1="635.30" x2="465.4" y2="626.70" stroke="#000" stroke-width="2.4"/>
<line x1="503.6" y1="635.30" x2="503.6" y2="630.70" stroke="#000" stroke-width="2.4"/>
<line x1="82.8" y1="627.50" x2="92.0" y2="627.50" stroke="#000" stroke-width="2.6"/>
<text x="72.5" y="631.5" font-size="20.3" fill="#000" text-anchor="end" font-family="Liberation Sans, sans-serif" font-weight="bold">0</text>
<line x1="82.8" y1="610.90" x2="88.0" y2="610.90" stroke="#000" stroke-width="2.6"/>
<line x1="82.8" y1="594.30" x2="92.0" y2="594.30" stroke="#000" stroke-width="2.6"/>
<text x="72.5" y="598.3" font-size="20.3" fill="#000" text-anchor="end" font-family="Liberation Sans, sans-serif" font-weight="bold">200</text>
<line x1="82.8" y1="577.70" x2="88.0" y2="577.70" stroke="#000" stroke-width="2.6"/>
<line x1="82.8" y1="561.10" x2="92.0" y2="561.10" stroke="#000" stroke-width="2.6"/>
<text x="72.5" y="565.1" font-size="20.3" fill="#000" text-anchor="end" font-family="Liberation Sans, sans-serif" font-weight="bold">400</text>
<text x="90.7" y="616.8" font-size="20.43" fill="#000" font-family="Liberation Sans, sans-serif" font-weight="bold" textLength="23.2" lengthAdjust="spacingAndGlyphs">F3</text>
<line x1="81.4" y1="727.00" x2="543.3" y2="727.00" stroke="#000" stroke-width="2.8"/>
<line x1="121.1" y1="727.00" x2="121.1" y2="722.40" stroke="#000" stroke-width="2.4"/>
<line x1="159.3" y1="727.00" x2="159.3" y2="718.40" stroke="#000" stroke-width="2.4"/>
<line x1="197.6" y1="727.00" x2="197.6" y2="722.40" stroke="#000" stroke-width="2.4"/>
<line x1="235.8" y1="727.00" x2="235.8" y2="718.40" stroke="#000" stroke-width="2.4"/>
<line x1="274.1" y1="727.00" x2="274.1" y2="722.40" stroke="#000" stroke-width="2.4"/>
<line x1="312.4" y1="727.00" x2="312.4" y2="718.40" stroke="#000" stroke-width="2.4"/>
<line x1="350.6" y1="727.00" x2="350.6" y2="722.40" stroke="#000" stroke-width="2.4"/>
<line x1="388.9" y1="727.00" x2="388.9" y2="718.40" stroke="#000" stroke-width="2.4"/>
<line x1="427.1" y1="727.00" x2="427.1" y2="722.40" stroke="#000" stroke-width="2.4"/>
<line x1="465.4" y1="727.00" x2="465.4" y2="718.40" stroke="#000" stroke-width="2.4"/>
<line x1="503.6" y1="727.00" x2="503.6" y2="722.40" stroke="#000" stroke-width="2.4"/>
<line x1="82.8" y1="719.10" x2="92.0" y2="719.10" stroke="#000" stroke-width="2.6"/>
<text x="72.5" y="723.1" font-size="20.3" fill="#000" text-anchor="end" font-family="Liberation Sans, sans-serif" font-weight="bold">0</text>
<line x1="82.8" y1="702.50" x2="88.0" y2="702.50" stroke="#000" stroke-width="2.6"/>
<line x1="82.8" y1="685.90" x2="92.0" y2="685.90" stroke="#000" stroke-width="2.6"/>
<text x="72.5" y="689.9" font-size="20.3" fill="#000" text-anchor="end" font-family="Liberation Sans, sans-serif" font-weight="bold">200</text>
<line x1="82.8" y1="669.30" x2="88.0" y2="669.30" stroke="#000" stroke-width="2.6"/>
<line x1="82.8" y1="652.70" x2="92.0" y2="652.70" stroke="#000" stroke-width="2.6"/>
<text x="72.5" y="656.7" font-size="20.3" fill="#000" text-anchor="end" font-family="Liberation Sans, sans-serif" font-weight="bold">400</text>
<text x="92.1" y="709.0" font-size="20.43" fill="#000" font-family="Liberation Sans, sans-serif" font-weight="bold" textLength="23.2" lengthAdjust="spacingAndGlyphs">F4</text>
<line x1="81.4" y1="360.50" x2="543.3" y2="360.50" stroke="#000" stroke-width="2.8"/>
<line x1="82.8" y1="360.50" x2="82.8" y2="728.40" stroke="#000" stroke-width="2.8"/>
<line x1="541.9" y1="360.50" x2="541.9" y2="728.40" stroke="#000" stroke-width="2.8"/>
<path d="M81.60,443.30C93.00,443.33 136.34,443.77 150.00,443.50C163.66,443.23 159.78,442.37 163.54,441.69C167.30,441.02 169.18,440.83 172.57,439.44C175.95,438.04 180.09,435.86 183.85,433.34C187.61,430.82 191.37,427.70 195.13,424.32C198.90,420.93 202.66,416.53 206.42,413.03C210.18,409.53 214.32,405.77 217.70,403.33C221.09,400.88 224.09,399.38 226.73,398.36C229.36,397.35 231.24,397.16 233.50,397.24C235.75,397.31 238.01,397.80 240.27,398.82C242.52,399.83 244.78,401.34 247.04,403.33C249.29,405.32 251.55,407.84 253.81,410.78C256.06,413.71 258.70,418.11 260.58,420.93C262.46,423.75 263.59,425.93 265.09,427.70C266.60,429.47 268.10,431.09 269.61,431.54C271.11,431.99 272.43,430.94 274.12,430.41C275.81,429.88 277.88,428.53 279.76,428.38C281.64,428.23 282.57,429.02 285.40,429.51C288.24,430.00 293.75,431.24 296.77,431.31C299.79,431.39 301.28,430.75 303.54,429.96C305.80,429.17 308.05,427.70 310.31,426.57C312.57,425.44 315.01,423.90 317.08,423.19C319.15,422.47 320.84,422.10 322.72,422.28C324.60,422.47 326.30,423.34 328.36,424.32C330.43,425.29 332.50,426.91 335.13,428.15C337.77,429.39 341.15,430.79 344.16,431.76C347.17,432.74 349.80,433.31 353.19,434.02C356.57,434.73 360.71,435.52 364.47,436.05C368.23,436.58 371.24,436.80 375.75,437.18C380.27,437.56 385.16,437.93 391.55,438.31C397.95,438.68 406.60,439.13 414.12,439.44C421.64,439.74 430.71,439.96 436.69,440.11C442.67,440.26 442.78,440.19 450.00,440.34C457.22,440.49 470.00,440.79 480.00,441.00C490.00,441.21 499.75,441.40 510.00,441.60C520.25,441.80 536.25,442.10 541.50,442.20" fill="none" stroke="#0b0bf0" stroke-width="3" stroke-linejoin="round" stroke-linecap="butt"/>
<path d="M81.60,443.30C93.00,443.41 136.34,443.99 150.00,443.95C163.66,443.91 159.78,443.31 163.54,443.05C167.30,442.78 169.18,442.86 172.57,442.37C175.95,441.88 180.09,440.87 183.85,440.11C187.61,439.36 191.37,438.68 195.13,437.86C198.90,437.03 202.66,436.16 206.42,435.15C210.18,434.13 214.13,433.00 217.70,431.76C221.27,430.52 224.85,429.51 227.86,427.70C230.87,425.90 232.93,423.75 235.75,420.93C238.58,418.11 241.77,414.16 244.78,410.78C247.79,407.39 251.18,403.25 253.81,400.62C256.44,397.99 258.89,396.03 260.58,394.98C262.27,393.93 262.65,393.93 263.96,394.30C265.28,394.68 266.78,395.05 268.48,397.24C270.17,399.42 272.24,403.63 274.12,407.39C276.00,411.15 277.88,416.23 279.76,419.80C281.64,423.38 282.57,425.44 285.40,428.83C288.24,432.21 293.94,437.74 296.77,440.11C299.61,442.48 300.72,442.86 302.41,443.05C304.10,443.23 305.23,442.29 306.93,441.24C308.62,440.19 310.50,438.53 312.57,436.73C314.64,434.92 317.27,431.84 319.34,430.41C321.41,428.98 323.10,428.30 324.98,428.15C326.86,428.00 328.55,428.83 330.62,429.51C332.69,430.18 334.76,431.31 337.39,432.21C340.02,433.12 343.03,434.09 346.42,434.92C349.80,435.75 352.81,436.50 357.70,437.18C362.59,437.86 370.11,438.57 375.75,438.98C381.40,439.40 385.16,439.47 391.55,439.66C397.95,439.85 404.38,439.92 414.12,440.11C423.86,440.30 439.02,440.59 450.00,440.79C460.98,440.99 470.00,441.13 480.00,441.30C490.00,441.47 499.75,441.63 510.00,441.80C520.25,441.97 536.25,442.22 541.50,442.30" fill="none" stroke="#f01414" stroke-width="3" stroke-linejoin="round" stroke-linecap="butt"/>
<path d="M81.60,535.40C93.00,535.49 136.72,535.93 150.00,535.95C163.28,535.97 157.52,535.95 161.28,535.50C165.04,535.05 168.81,534.18 172.57,533.24C176.33,532.30 180.09,531.17 183.85,529.86C187.61,528.54 191.37,527.30 195.13,525.34C198.90,523.39 202.66,520.64 206.42,518.12C210.18,515.60 214.32,512.22 217.70,510.22C221.09,508.23 224.28,506.95 226.73,506.16C229.17,505.37 230.49,505.30 232.37,505.48C234.25,505.67 235.94,506.24 238.01,507.29C240.08,508.34 242.52,510.30 244.78,511.80C247.04,513.31 249.29,515.11 251.55,516.32C253.81,517.52 256.44,518.38 258.32,519.02C260.20,519.66 261.33,519.29 262.83,520.15C264.34,521.02 265.84,522.41 267.35,524.21C268.85,526.02 270.55,529.56 271.86,530.98C273.18,532.41 274.12,532.79 275.25,532.79C276.38,532.79 277.32,532.41 278.63,530.98C279.95,529.56 281.26,527.04 283.15,524.21C285.03,521.39 287.64,517.26 289.92,514.06C292.19,510.86 294.50,508.04 296.77,505.03C299.04,502.02 301.28,498.83 303.54,496.01C305.80,493.18 308.05,490.48 310.31,488.11C312.57,485.74 315.20,483.03 317.08,481.79C318.96,480.55 320.09,480.17 321.59,480.66C323.10,481.15 324.41,482.54 326.11,484.72C327.80,486.90 329.87,490.74 331.75,493.75C333.63,496.76 335.32,500.14 337.39,502.78C339.46,505.41 341.90,507.85 344.16,509.55C346.42,511.24 348.67,512.18 350.93,512.93C353.19,513.68 355.07,514.13 357.70,514.06C360.33,513.98 363.72,512.97 366.73,512.48C369.74,511.99 373.12,511.16 375.75,511.13C378.39,511.09 380.27,511.58 382.52,512.25C384.78,512.93 386.66,513.95 389.29,515.19C391.93,516.43 395.31,518.31 398.32,519.70C401.33,521.09 404.34,522.48 407.35,523.54C410.36,524.59 413.37,525.34 416.38,526.02C419.38,526.70 422.02,527.15 425.40,527.60C428.79,528.05 432.15,528.29 436.69,528.73C441.22,529.16 444.38,529.70 452.60,530.20C460.82,530.70 471.18,531.25 486.00,531.70C500.82,532.15 532.25,532.70 541.50,532.90" fill="none" stroke="#0b0bf0" stroke-width="3" stroke-linejoin="round" stroke-linecap="butt"/>
<path d="M81.60,535.40C93.00,535.49 136.72,535.93 150.00,535.95C163.28,535.97 157.52,535.91 161.28,535.50C165.04,535.08 168.81,534.33 172.57,533.47C176.33,532.60 180.09,531.29 183.85,530.31C187.61,529.33 191.37,528.43 195.13,527.60C198.90,526.77 202.66,526.09 206.42,525.34C210.18,524.59 214.13,524.10 217.70,523.09C221.27,522.07 224.85,520.57 227.86,519.25C230.87,517.93 232.93,516.80 235.75,515.19C238.58,513.57 242.15,511.99 244.78,509.55C247.41,507.10 249.29,504.28 251.55,500.52C253.81,496.76 256.25,490.93 258.32,486.98C260.39,483.03 262.27,478.97 263.96,476.82C265.66,474.68 267.16,474.42 268.48,474.12C269.79,473.81 270.55,473.81 271.86,475.02C273.18,476.22 274.68,478.78 276.38,481.34C278.07,483.89 280.14,487.92 282.02,490.36C283.90,492.81 286.33,494.69 287.66,496.01C288.99,497.32 288.86,497.96 290.00,498.26C291.14,498.56 292.82,498.38 294.51,497.81C296.21,497.25 298.27,496.19 300.16,494.88C302.04,493.56 303.73,491.79 305.80,489.91C307.87,488.03 310.50,485.14 312.57,483.59C314.64,482.05 316.52,480.66 318.21,480.66C319.90,480.66 321.22,481.60 322.72,483.59C324.23,485.59 325.54,489.24 327.24,492.62C328.93,496.01 330.81,500.33 332.88,503.90C334.95,507.48 337.01,510.67 339.65,514.06C342.28,517.44 345.85,521.21 348.67,524.21C351.50,527.22 354.39,530.16 356.57,532.11C358.75,534.07 360.07,535.95 361.76,535.95C363.46,535.95 364.77,533.69 366.73,532.11C368.68,530.53 371.24,527.86 373.50,526.47C375.75,525.08 378.01,524.36 380.27,523.76C382.52,523.16 384.41,522.86 387.04,522.86C389.67,522.86 392.68,523.24 396.06,523.76C399.45,524.29 403.59,525.38 407.35,526.02C411.11,526.66 414.87,527.15 418.63,527.60C422.39,528.05 424.25,528.23 429.92,528.73C435.58,529.23 443.25,530.07 452.60,530.60C461.95,531.13 471.18,531.50 486.00,531.90C500.82,532.30 532.25,532.82 541.50,533.00" fill="none" stroke="#f01414" stroke-width="3" stroke-linejoin="round" stroke-linecap="butt"/>
<path d="M81.60,627.20C93.00,627.25 136.72,627.56 150.00,627.50C163.28,627.43 157.52,627.27 161.28,626.82C165.04,626.37 168.81,625.88 172.57,624.79C176.33,623.70 180.09,622.01 183.85,620.28C187.61,618.55 191.37,616.29 195.13,614.41C198.90,612.53 203.03,610.87 206.42,608.99C209.80,607.11 212.81,605.12 215.44,603.13C218.08,601.13 220.15,599.18 222.21,597.03C224.28,594.89 225.98,592.52 227.86,590.26C229.74,588.01 231.43,585.26 233.50,583.49C235.57,581.72 238.01,580.41 240.27,579.66C242.52,578.90 244.78,578.90 247.04,578.98C249.29,579.05 251.18,579.54 253.81,580.11C256.44,580.67 260.20,581.42 262.83,582.36C265.47,583.30 267.35,584.24 269.61,585.75C271.86,587.25 274.12,589.89 276.38,591.39C278.63,592.90 281.08,593.99 283.15,594.78C285.21,595.57 286.52,596.24 288.79,596.13C291.06,596.02 294.31,594.96 296.77,594.10C299.23,593.23 301.28,591.88 303.54,590.94C305.80,590.00 308.24,589.02 310.31,588.46C312.38,587.89 314.26,587.44 315.95,587.55C317.64,587.67 318.77,587.93 320.47,589.13C322.16,590.34 324.04,592.71 326.11,594.78C328.18,596.84 330.43,599.97 332.88,601.55C335.32,603.13 338.14,604.07 340.78,604.25C343.41,604.44 345.85,603.88 348.67,602.67C351.50,601.47 354.69,599.10 357.70,597.03C360.71,594.96 364.09,592.03 366.73,590.26C369.36,588.49 371.62,587.10 373.50,586.43C375.38,585.75 376.32,585.82 378.01,586.20C379.70,586.58 381.40,587.25 383.65,588.68C385.91,590.11 388.73,592.63 391.55,594.78C394.37,596.92 397.57,599.48 400.58,601.55C403.59,603.61 406.60,605.57 409.61,607.19C412.61,608.80 415.25,610.01 418.63,611.25C422.02,612.49 426.15,613.69 429.92,614.63C433.68,615.57 437.42,616.16 441.20,616.89C444.98,617.62 448.80,618.37 452.60,619.00C456.40,619.63 458.43,620.17 464.00,620.70C469.57,621.23 478.33,621.82 486.00,622.20C493.67,622.58 500.75,622.77 510.00,623.00C519.25,623.23 536.25,623.50 541.50,623.60" fill="none" stroke="#0b0bf0" stroke-width="3" stroke-linejoin="round" stroke-linecap="butt"/>
<path d="M81.60,627.20C93.00,627.25 136.72,627.56 150.00,627.50C163.28,627.43 157.52,627.27 161.28,626.82C165.04,626.37 168.81,625.99 172.57,624.79C176.33,623.59 180.09,621.52 183.85,619.60C187.61,617.68 191.37,615.42 195.13,613.28C198.90,611.14 202.66,608.88 206.42,606.74C210.18,604.59 214.32,601.96 217.70,600.42C221.09,598.88 224.09,598.12 226.73,597.48C229.36,596.84 231.24,596.47 233.50,596.58C235.75,596.69 237.64,597.15 240.27,598.16C242.90,599.18 245.91,600.98 249.29,602.67C252.68,604.37 257.57,606.74 260.58,608.32C263.59,609.90 265.28,611.02 267.35,612.15C269.42,613.28 271.30,614.97 272.99,615.09C274.68,615.20 275.81,614.15 277.50,612.83C279.20,611.51 281.26,609.26 283.15,607.19C285.03,605.12 286.52,603.24 288.79,600.42C291.06,597.60 294.31,594.02 296.77,590.26C299.23,586.50 301.28,581.99 303.54,577.85C305.80,573.71 308.24,569.39 310.31,565.44C312.38,561.49 314.26,556.79 315.95,554.16C317.64,551.52 319.15,550.51 320.47,549.64C321.78,548.78 322.72,548.59 323.85,548.96C324.98,549.34 325.73,550.09 327.24,551.90C328.74,553.70 330.81,557.35 332.88,559.80C334.95,562.24 337.39,564.87 339.65,566.57C341.90,568.26 344.16,569.28 346.42,569.95C348.67,570.63 350.93,570.82 353.19,570.63C355.44,570.44 357.51,569.69 359.96,568.82C362.40,567.96 365.60,566.27 367.86,565.44C370.11,564.61 371.81,563.86 373.50,563.86C375.19,563.86 376.32,564.24 378.01,565.44C379.70,566.64 381.58,568.64 383.65,571.08C385.72,573.53 387.98,576.91 390.42,580.11C392.87,583.30 395.50,586.95 398.32,590.26C401.14,593.57 404.34,597.33 407.35,599.97C410.36,602.60 413.37,604.29 416.38,606.06C419.38,607.83 422.02,609.26 425.40,610.57C428.79,611.89 432.15,612.82 436.69,613.96C441.22,615.10 448.05,616.48 452.60,617.40C457.15,618.32 458.43,618.80 464.00,619.50C469.57,620.20 478.33,621.07 486.00,621.60C493.67,622.13 500.75,622.38 510.00,622.70C519.25,623.02 536.25,623.37 541.50,623.50" fill="none" stroke="#f01414" stroke-width="3" stroke-linejoin="round" stroke-linecap="butt"/>
<path d="M81.60,718.80C93.00,718.84 136.72,719.01 150.00,719.05C163.28,719.09 157.52,719.12 161.28,719.05C165.04,718.97 168.81,718.97 172.57,718.60C176.33,718.22 180.09,717.69 183.85,716.79C187.61,715.89 191.37,714.31 195.13,713.18C198.90,712.05 202.66,710.92 206.42,710.02C210.18,709.12 214.32,708.63 217.70,707.76C221.09,706.90 224.09,706.26 226.73,704.83C229.36,703.40 231.24,701.26 233.50,699.19C235.75,697.12 238.01,695.05 240.27,692.42C242.52,689.78 244.78,686.59 247.04,683.39C249.29,680.19 251.55,676.62 253.81,673.24C256.06,669.85 258.32,666.09 260.58,663.08C262.83,660.07 265.28,657.14 267.35,655.18C269.42,653.23 271.30,651.91 272.99,651.35C274.68,650.78 275.81,651.04 277.50,651.80C279.20,652.55 281.26,654.43 283.15,655.86C285.03,657.29 286.52,659.06 288.79,660.37C291.06,661.69 294.31,662.93 296.77,663.76C299.23,664.58 301.28,665.19 303.54,665.34C305.80,665.49 308.05,664.66 310.31,664.66C312.57,664.66 315.01,664.66 317.08,665.34C319.15,666.01 320.84,667.29 322.72,668.72C324.60,670.15 326.30,672.60 328.36,673.91C330.43,675.23 332.88,676.24 335.13,676.62C337.39,677.00 339.46,676.92 341.90,676.17C344.35,675.42 347.17,673.72 349.80,672.11C352.44,670.49 354.88,668.72 357.70,666.47C360.52,664.21 364.09,660.56 366.73,658.57C369.36,656.57 371.81,655.26 373.50,654.50C375.19,653.75 375.57,653.68 376.88,654.05C378.20,654.43 379.70,655.07 381.40,656.76C383.09,658.45 384.97,661.28 387.04,664.21C389.11,667.14 391.18,670.79 393.81,674.36C396.44,677.94 399.83,682.45 402.83,685.65C405.84,688.84 408.85,691.36 411.86,693.55C414.87,695.73 417.50,697.23 420.89,698.74C424.27,700.24 428.41,701.44 432.17,702.57C435.93,703.70 440.05,704.60 443.46,705.51C446.86,706.41 449.18,707.25 452.60,708.00C456.02,708.75 458.43,709.28 464.00,710.00C469.57,710.72 478.33,711.72 486.00,712.30C493.67,712.88 500.75,713.12 510.00,713.50C519.25,713.88 536.25,714.42 541.50,714.60" fill="none" stroke="#0b0bf0" stroke-width="3" stroke-linejoin="round" stroke-linecap="butt"/>
<path d="M81.60,718.80C93.00,718.84 136.72,719.01 150.00,719.05C163.28,719.09 157.52,719.20 161.28,719.05C165.04,718.90 168.81,718.82 172.57,718.14C176.33,717.47 180.09,716.45 183.85,714.98C187.61,713.52 191.37,711.41 195.13,709.34C198.90,707.27 203.03,704.45 206.42,702.57C209.80,700.69 212.81,699.07 215.44,698.06C218.08,697.04 219.96,696.97 222.21,696.48C224.47,695.99 226.35,695.99 228.98,695.13C231.62,694.26 235.00,692.79 238.01,691.29C241.02,689.78 244.03,687.79 247.04,686.10C250.05,684.41 253.43,682.45 256.06,681.13C258.70,679.82 260.77,679.70 262.83,678.20C264.90,676.70 266.60,674.25 268.48,672.11C270.36,669.96 272.43,666.77 274.12,665.34C275.81,663.91 277.13,663.53 278.63,663.53C280.14,663.53 281.45,664.40 283.15,665.34C284.84,666.28 286.52,667.48 288.79,669.17C291.06,670.87 294.31,673.50 296.77,675.49C299.23,677.49 301.28,679.25 303.54,681.13C305.80,683.01 308.24,684.90 310.31,686.78C312.38,688.66 314.26,690.91 315.95,692.42C317.64,693.92 319.15,695.24 320.47,695.80C321.78,696.37 322.53,696.37 323.85,695.80C325.17,695.24 326.48,693.92 328.36,692.42C330.24,690.91 332.50,688.84 335.13,686.78C337.77,684.71 341.15,682.45 344.16,680.01C347.17,677.56 350.18,674.93 353.19,672.11C356.20,669.29 359.58,665.53 362.21,663.08C364.85,660.64 366.92,658.87 368.98,657.44C371.05,656.01 373.12,654.99 374.63,654.50C376.13,654.02 376.69,654.02 378.01,654.50C379.33,654.99 380.83,655.71 382.52,657.44C384.22,659.17 386.10,661.99 388.17,664.89C390.24,667.78 392.49,671.35 394.94,674.82C397.38,678.28 400.01,682.53 402.83,685.65C405.66,688.77 408.85,691.36 411.86,693.55C414.87,695.73 417.50,697.23 420.89,698.74C424.27,700.24 428.41,701.44 432.17,702.57C435.93,703.70 440.05,704.60 443.46,705.51C446.86,706.41 449.18,707.25 452.60,708.00C456.02,708.75 458.43,709.28 464.00,710.00C469.57,710.72 478.33,711.72 486.00,712.30C493.67,712.88 500.75,713.12 510.00,713.50C519.25,713.88 536.25,714.42 541.50,714.60" fill="none" stroke="#f01414" stroke-width="3" stroke-linejoin="round" stroke-linecap="butt"/>
<line x1="228.2" y1="360.5" x2="228.2" y2="727.0" stroke="#000" stroke-width="1.3" stroke-dasharray="6.8,1.9,1.4,1.9"/>
<line x1="262.0" y1="360.5" x2="262.0" y2="727.0" stroke="#000" stroke-width="1.3" stroke-dasharray="6.8,1.9,1.4,1.9"/>
<line x1="319.6" y1="360.5" x2="319.6" y2="727.0" stroke="#000" stroke-width="1.3" stroke-dasharray="6.8,1.9,1.4,1.9"/>
<line x1="376.2" y1="360.5" x2="376.2" y2="727.0" stroke="#000" stroke-width="1.3" stroke-dasharray="6.8,1.9,1.4,1.9"/>
<text x="78.7" y="752.4" font-size="20.3" fill="#000" text-anchor="middle" font-family="Liberation Sans, sans-serif" font-weight="bold">400</text>
<text x="155.0" y="752.4" font-size="20.3" fill="#000" text-anchor="middle" font-family="Liberation Sans, sans-serif" font-weight="bold">500</text>
<text x="231.6" y="752.4" font-size="20.3" fill="#000" text-anchor="middle" font-family="Liberation Sans, sans-serif" font-weight="bold">600</text>
<text x="308.8" y="752.4" font-size="20.3" fill="#000" text-anchor="middle" font-family="Liberation Sans, sans-serif" font-weight="bold">700</text>
<text x="385.2" y="752.4" font-size="20.3" fill="#000" text-anchor="middle" font-family="Liberation Sans, sans-serif" font-weight="bold">800</text>
<text x="461.9" y="752.4" font-size="20.3" fill="#000" text-anchor="middle" font-family="Liberation Sans, sans-serif" font-weight="bold">900</text>
<text x="538.6" y="752.4" font-size="20.3" fill="#000" text-anchor="middle" font-family="Liberation Sans, sans-serif" font-weight="bold">1000</text>
<text x="215.8" y="778.6" font-size="22" fill="#000" font-family="Liberation Sans, sans-serif" font-weight="bold" textLength="163.5" lengthAdjust="spacingAndGlyphs">Wavelength(nm)</text>
<text transform="translate(17.5,591.0) rotate(-90)" font-size="21.8" fill="#000" font-family="Liberation Sans, sans-serif" font-weight="bold" textLength="82.6" lengthAdjust="spacingAndGlyphs">|E|(V/m)</text>
<line x1="439.8" y1="373.9" x2="491.5" y2="373.9" stroke="#0b0bf0" stroke-width="2.8"/>
<line x1="439.8" y1="402.1" x2="491.5" y2="402.1" stroke="#f01414" stroke-width="2.8"/>
<text x="497.2" y="381.5" font-size="21" fill="#000" font-family="Liberation Sans, sans-serif" font-weight="bold">LCP</text>
<text x="496.2" y="408.9" font-size="21" fill="#000" font-family="Liberation Sans, sans-serif" font-weight="bold">RCP</text>
<line x1="439.0" y1="468.4" x2="490.6" y2="468.4" stroke="#0b0bf0" stroke-width="2.8"/>
<line x1="439.0" y1="495.6" x2="490.6" y2="495.6" stroke="#f01414" stroke-width="2.8"/>
<text x="496.5" y="476.0" font-size="21" fill="#000" font-family="Liberation Sans, sans-serif" font-weight="bold">LCP</text>
<text x="495.5" y="502.4" font-size="21" fill="#000" font-family="Liberation Sans, sans-serif" font-weight="bold">RCP</text>
<line x1="439.0" y1="561.0" x2="490.6" y2="561.0" stroke="#0b0bf0" stroke-width="2.8"/>
<line x1="439.0" y1="588.7" x2="490.6" y2="588.7" stroke="#f01414" stroke-width="2.8"/>
<text x="496.5" y="568.6" font-size="21" fill="#000" font-family="Liberation Sans, sans-serif" font-weight="bold">LCP</text>
<text x="495.5" y="595.5" font-size="21" fill="#000" font-family="Liberation Sans, sans-serif" font-weight="bold">RCP</text>
<line x1="436.5" y1="654.0" x2="487.8" y2="654.0" stroke="#0b0bf0" stroke-width="2.8"/>
<line x1="436.5" y1="681.8" x2="487.8" y2="681.8" stroke="#f01414" stroke-width="2.8"/>
<text x="494.0" y="661.6" font-size="21" fill="#000" font-family="Liberation Sans, sans-serif" font-weight="bold">LCP</text>
<text x="493.0" y="688.6" font-size="21" fill="#000" font-family="Liberation Sans, sans-serif" font-weight="bold">RCP</text>
<g clip-path="url(#clip1)">
<rect x="550.8" y="409.3" width="152.0" height="104.2" fill="url(#q34)"/>
<ellipse cx="640.0" cy="462.0" rx="62.0" ry="44.0" fill="url(#q36)" opacity="1.00"/>
<ellipse cx="603.5" cy="467.0" rx="22.0" ry="20.0" fill="url(#q37)" opacity="1.00"/>
<ellipse cx="644.9" cy="455.6" rx="38.0" ry="38.0" fill="url(#q38)" opacity="1.00"/>
<ellipse cx="677.0" cy="462.0" rx="14.0" ry="11.0" fill="url(#q39)" opacity="1.00"/>
<ellipse cx="618.2" cy="470.0" rx="6.5" ry="13.0" fill="url(#q40)" opacity="1.00"/>
<ellipse cx="599.1" cy="481.8" rx="14.0" ry="4.0" fill="url(#q41)" opacity="1.00"/>
<ellipse cx="644.9" cy="481.6" rx="21.0" ry="6.0" fill="url(#q42)" opacity="1.00"/>
<rect x="550.8" y="482.7" width="152.0" height="30.8" fill="url(#q35)"/>
<g clip-path="url(#clip1s)">
<ellipse cx="599.1" cy="482.7" rx="22.0" ry="9.0" fill="url(#q43)" opacity="1.00"/>
<ellipse cx="644.9" cy="482.7" rx="34.0" ry="13.0" fill="url(#q44)" opacity="1.00"/>
</g>
<circle cx="599.4" cy="464.6" r="17.2" fill="url(#q45)"/>
<circle cx="644.7" cy="455.0" r="26.4" fill="url(#q46)"/>
<ellipse cx="585.3" cy="451.5" rx="3.6" ry="3.6" fill="url(#q47)" opacity="1.00"/>
<ellipse cx="621.0" cy="437.0" rx="3.6" ry="3.6" fill="url(#q48)" opacity="1.00"/>
<ellipse cx="669.5" cy="470.5" rx="3.6" ry="3.6" fill="url(#q49)" opacity="1.00"/>
<ellipse cx="616.0" cy="475.0" rx="3.0" ry="3.0" fill="url(#q50)" opacity="1.00"/>
</g>
<text x="588.5" y="470.5" font-size="21.74" fill="#f7ea3b" font-family="Liberation Sans, sans-serif" font-weight="bold" textLength="22.8" lengthAdjust="spacingAndGlyphs" stroke="#f7ea3b" stroke-width="0.45" stroke-linejoin="round">20</text>
<text x="633.7" y="463.4" font-size="21.74" fill="#f7ea3b" font-family="Liberation Sans, sans-serif" font-weight="bold" textLength="23.3" lengthAdjust="spacingAndGlyphs" stroke="#f7ea3b" stroke-width="0.45" stroke-linejoin="round">30</text>
<text x="588.0" y="500.2" font-size="20.87" fill="#d8142c" font-family="Liberation Sans, sans-serif" font-weight="bold" textLength="19.9" lengthAdjust="spacingAndGlyphs" stroke="#d8142c" stroke-width="0.45" stroke-linejoin="round">F1</text>
<text x="636.2" y="500.2" font-size="20.87" fill="#d8142c" font-family="Liberation Sans, sans-serif" font-weight="bold" textLength="20.8" lengthAdjust="spacingAndGlyphs" stroke="#d8142c" stroke-width="0.45" stroke-linejoin="round">F2</text>
<g clip-path="url(#clip2)">
<rect x="550.8" y="547.5" width="152.0" height="106.7" fill="url(#q51)"/>
<ellipse cx="625.0" cy="600.0" rx="90.0" ry="60.0" fill="url(#q53)" opacity="1.00"/>
<ellipse cx="591.3" cy="596.0" rx="40.0" ry="40.0" fill="url(#q54)" opacity="1.00"/>
<ellipse cx="655.6" cy="588.2" rx="48.0" ry="48.0" fill="url(#q55)" opacity="1.00"/>
<ellipse cx="620.5" cy="596.0" rx="5.5" ry="26.0" fill="url(#q56)" opacity="1.00"/>
<ellipse cx="591.3" cy="623.2" rx="24.0" ry="5.5" fill="url(#q57)" opacity="1.00"/>
<ellipse cx="655.6" cy="623.2" rx="28.0" ry="5.5" fill="url(#q58)" opacity="1.00"/>
<rect x="550.8" y="624.4" width="152.0" height="29.8" fill="url(#q52)"/>
<g clip-path="url(#clip2s)">
<ellipse cx="591.3" cy="624.4" rx="36.0" ry="12.0" fill="url(#q59)" opacity="1.00"/>
<ellipse cx="655.6" cy="624.4" rx="42.0" ry="13.0" fill="url(#q60)" opacity="1.00"/>
</g>
<circle cx="591.5" cy="595.5" r="27.5" fill="url(#q61)"/>
<circle cx="655.5" cy="588.4" r="34.6" fill="url(#q62)"/>
<ellipse cx="610.5" cy="619.8" rx="3.8" ry="3.8" fill="url(#q63)" opacity="1.00"/>
<ellipse cx="630.0" cy="619.0" rx="3.8" ry="3.8" fill="url(#q64)" opacity="1.00"/>
</g>
<text x="580.6" y="607.5" font-size="21.74" fill="#f7ea3b" font-family="Liberation Sans, sans-serif" font-weight="bold" textLength="23.9" lengthAdjust="spacingAndGlyphs" stroke="#f7ea3b" stroke-width="0.45" stroke-linejoin="round">40</text>
<text x="643.6" y="600.8" font-size="21.74" fill="#f7ea3b" font-family="Liberation Sans, sans-serif" font-weight="bold" textLength="23.3" lengthAdjust="spacingAndGlyphs" stroke="#f7ea3b" stroke-width="0.45" stroke-linejoin="round">50</text>
<text x="583.8" y="645.2" font-size="20.72" fill="#d8142c" font-family="Liberation Sans, sans-serif" font-weight="bold" textLength="21.8" lengthAdjust="spacingAndGlyphs" stroke="#d8142c" stroke-width="0.45" stroke-linejoin="round">F3</text>
<text x="643.0" y="645.2" font-size="20.72" fill="#d8142c" font-family="Liberation Sans, sans-serif" font-weight="bold" textLength="21.8" lengthAdjust="spacingAndGlyphs" stroke="#d8142c" stroke-width="0.45" stroke-linejoin="round">F4</text>
</svg>
</body></html>
